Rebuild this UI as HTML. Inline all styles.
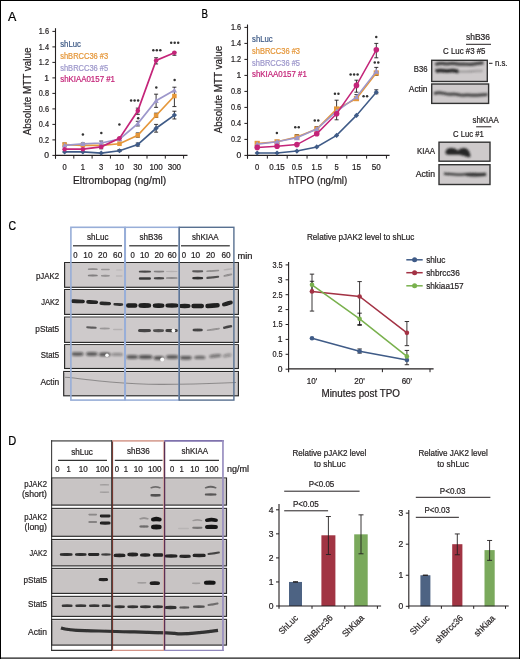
<!DOCTYPE html><html><head><meta charset="utf-8"><style>html,body{margin:0;padding:0;background:#fff;}svg{display:block;will-change:transform;}</style></head><body>
<svg width="520" height="659" viewBox="0 0 520 659" font-family='"Liberation Sans", sans-serif'>
<defs><filter id="b1" x="-20%" y="-50%" width="140%" height="200%"><feGaussianBlur stdDeviation="0.8"/></filter><filter id="b2" x="-20%" y="-50%" width="140%" height="200%"><feGaussianBlur stdDeviation="1.0"/></filter><filter id="b0" x="-20%" y="-50%" width="140%" height="200%"><feGaussianBlur stdDeviation="0.5"/></filter></defs>
<rect x="0.00" y="0.00" width="520.00" height="659.00" fill="#fff" stroke="none" stroke-width="1" />
<text x="8.00" y="21.20" font-size="12.60" fill="#000" stroke="#000" stroke-width="0.22" text-anchor="start" textLength="8.3" lengthAdjust="spacingAndGlyphs" >A</text>
<text x="60.20" y="47.20" font-size="8.56" fill="#3f5b87" stroke="#3f5b87" stroke-width="0.22" text-anchor="start" textLength="20.7" lengthAdjust="spacingAndGlyphs" >shLuc</text>
<text x="60.20" y="58.80" font-size="8.56" fill="#e5973a" stroke="#e5973a" stroke-width="0.22" text-anchor="start" textLength="48" lengthAdjust="spacingAndGlyphs" >shBRCC36 #3</text>
<text x="60.20" y="70.50" font-size="8.56" fill="#9d97cb" stroke="#9d97cb" stroke-width="0.22" text-anchor="start" textLength="48" lengthAdjust="spacingAndGlyphs" >shBRCC36 #5</text>
<text x="60.20" y="82.00" font-size="8.56" fill="#c42479" stroke="#c42479" stroke-width="0.22" text-anchor="start" textLength="54.8" lengthAdjust="spacingAndGlyphs" >shKIAA0157 #1</text>
<text transform="translate(31.2,91.4) rotate(-90)" font-size="10.2" stroke="#231f20" stroke-width="0.2" fill="#231f20" text-anchor="middle" textLength="87.8" lengthAdjust="spacingAndGlyphs">Absolute MTT value</text>
<line x1="55.50" y1="28.20" x2="55.50" y2="158.60" stroke="#231f20" stroke-width="1.1" />
<line x1="55.50" y1="155.40" x2="187.50" y2="155.40" stroke="#231f20" stroke-width="1.1" />
<line x1="52.40" y1="155.40" x2="55.50" y2="155.40" stroke="#231f20" stroke-width="1" />
<text x="49.00" y="158.20" font-size="8.56" fill="#231f20" stroke="#231f20" stroke-width="0.22" text-anchor="end" >0</text>
<line x1="52.40" y1="139.90" x2="55.50" y2="139.90" stroke="#231f20" stroke-width="1" />
<text x="49.00" y="142.70" font-size="8.56" fill="#231f20" stroke="#231f20" stroke-width="0.22" text-anchor="end" textLength="10.2" lengthAdjust="spacingAndGlyphs" >0.2</text>
<line x1="52.40" y1="124.40" x2="55.50" y2="124.40" stroke="#231f20" stroke-width="1" />
<text x="49.00" y="127.20" font-size="8.56" fill="#231f20" stroke="#231f20" stroke-width="0.22" text-anchor="end" textLength="10.2" lengthAdjust="spacingAndGlyphs" >0.4</text>
<line x1="52.40" y1="108.90" x2="55.50" y2="108.90" stroke="#231f20" stroke-width="1" />
<text x="49.00" y="111.70" font-size="8.56" fill="#231f20" stroke="#231f20" stroke-width="0.22" text-anchor="end" textLength="10.2" lengthAdjust="spacingAndGlyphs" >0.6</text>
<line x1="52.40" y1="93.40" x2="55.50" y2="93.40" stroke="#231f20" stroke-width="1" />
<text x="49.00" y="96.20" font-size="8.56" fill="#231f20" stroke="#231f20" stroke-width="0.22" text-anchor="end" textLength="10.2" lengthAdjust="spacingAndGlyphs" >0.8</text>
<line x1="52.40" y1="77.90" x2="55.50" y2="77.90" stroke="#231f20" stroke-width="1" />
<text x="49.00" y="80.70" font-size="8.56" fill="#231f20" stroke="#231f20" stroke-width="0.22" text-anchor="end" >1</text>
<line x1="52.40" y1="62.40" x2="55.50" y2="62.40" stroke="#231f20" stroke-width="1" />
<text x="49.00" y="65.20" font-size="8.56" fill="#231f20" stroke="#231f20" stroke-width="0.22" text-anchor="end" textLength="10.2" lengthAdjust="spacingAndGlyphs" >1.2</text>
<line x1="52.40" y1="46.90" x2="55.50" y2="46.90" stroke="#231f20" stroke-width="1" />
<text x="49.00" y="49.70" font-size="8.56" fill="#231f20" stroke="#231f20" stroke-width="0.22" text-anchor="end" textLength="10.2" lengthAdjust="spacingAndGlyphs" >1.4</text>
<line x1="52.40" y1="31.40" x2="55.50" y2="31.40" stroke="#231f20" stroke-width="1" />
<text x="49.00" y="34.20" font-size="8.56" fill="#231f20" stroke="#231f20" stroke-width="0.22" text-anchor="end" textLength="10.2" lengthAdjust="spacingAndGlyphs" >1.6</text>
<line x1="55.50" y1="155.40" x2="55.50" y2="158.60" stroke="#231f20" stroke-width="1" />
<line x1="73.80" y1="155.40" x2="73.80" y2="158.60" stroke="#231f20" stroke-width="1" />
<line x1="92.10" y1="155.40" x2="92.10" y2="158.60" stroke="#231f20" stroke-width="1" />
<line x1="110.40" y1="155.40" x2="110.40" y2="158.60" stroke="#231f20" stroke-width="1" />
<line x1="128.70" y1="155.40" x2="128.70" y2="158.60" stroke="#231f20" stroke-width="1" />
<line x1="147.00" y1="155.40" x2="147.00" y2="158.60" stroke="#231f20" stroke-width="1" />
<line x1="165.30" y1="155.40" x2="165.30" y2="158.60" stroke="#231f20" stroke-width="1" />
<line x1="183.60" y1="155.40" x2="183.60" y2="158.60" stroke="#231f20" stroke-width="1" />
<text x="64.60" y="169.60" font-size="8.35" fill="#231f20" stroke="#231f20" stroke-width="0.22" text-anchor="middle" textLength="4.2" lengthAdjust="spacingAndGlyphs" >0</text>
<text x="82.90" y="169.60" font-size="8.35" fill="#231f20" stroke="#231f20" stroke-width="0.22" text-anchor="middle" textLength="4.2" lengthAdjust="spacingAndGlyphs" >1</text>
<text x="101.20" y="169.60" font-size="8.35" fill="#231f20" stroke="#231f20" stroke-width="0.22" text-anchor="middle" textLength="4.2" lengthAdjust="spacingAndGlyphs" >3</text>
<text x="119.50" y="169.60" font-size="8.35" fill="#231f20" stroke="#231f20" stroke-width="0.22" text-anchor="middle" textLength="9.0" lengthAdjust="spacingAndGlyphs" >10</text>
<text x="137.80" y="169.60" font-size="8.35" fill="#231f20" stroke="#231f20" stroke-width="0.22" text-anchor="middle" textLength="9.0" lengthAdjust="spacingAndGlyphs" >30</text>
<text x="156.10" y="169.60" font-size="8.35" fill="#231f20" stroke="#231f20" stroke-width="0.22" text-anchor="middle" textLength="13.4" lengthAdjust="spacingAndGlyphs" >100</text>
<text x="174.40" y="169.60" font-size="8.35" fill="#231f20" stroke="#231f20" stroke-width="0.22" text-anchor="middle" textLength="13.4" lengthAdjust="spacingAndGlyphs" >300</text>
<text x="73.00" y="184.20" font-size="10.27" fill="#231f20" stroke="#231f20" stroke-width="0.22" text-anchor="start" textLength="93.2" lengthAdjust="spacingAndGlyphs" >Eltrombopag (ng/ml)</text>
<line x1="137.80" y1="108.12" x2="137.80" y2="114.33" stroke="#231f20" stroke-width="0.9" />
<line x1="135.80" y1="108.12" x2="139.80" y2="108.12" stroke="#231f20" stroke-width="0.9" />
<line x1="135.80" y1="114.33" x2="139.80" y2="114.33" stroke="#231f20" stroke-width="0.9" />
<line x1="156.10" y1="57.75" x2="156.10" y2="63.95" stroke="#231f20" stroke-width="0.9" />
<line x1="154.10" y1="57.75" x2="158.10" y2="57.75" stroke="#231f20" stroke-width="0.9" />
<line x1="154.10" y1="63.95" x2="158.10" y2="63.95" stroke="#231f20" stroke-width="0.9" />
<line x1="174.40" y1="52.33" x2="174.40" y2="55.27" stroke="#231f20" stroke-width="0.9" />
<line x1="172.40" y1="52.33" x2="176.40" y2="52.33" stroke="#231f20" stroke-width="0.9" />
<line x1="172.40" y1="55.27" x2="176.40" y2="55.27" stroke="#231f20" stroke-width="0.9" />
<line x1="156.10" y1="94.18" x2="156.10" y2="107.35" stroke="#231f20" stroke-width="0.9" />
<line x1="154.10" y1="94.18" x2="158.10" y2="94.18" stroke="#231f20" stroke-width="0.9" />
<line x1="154.10" y1="107.35" x2="158.10" y2="107.35" stroke="#231f20" stroke-width="0.9" />
<line x1="174.40" y1="87.20" x2="174.40" y2="106.58" stroke="#231f20" stroke-width="0.9" />
<line x1="172.40" y1="87.20" x2="176.40" y2="87.20" stroke="#231f20" stroke-width="0.9" />
<line x1="172.40" y1="106.58" x2="176.40" y2="106.58" stroke="#231f20" stroke-width="0.9" />
<line x1="156.10" y1="124.40" x2="156.10" y2="132.15" stroke="#231f20" stroke-width="0.9" />
<line x1="154.10" y1="124.40" x2="158.10" y2="124.40" stroke="#231f20" stroke-width="0.9" />
<line x1="154.10" y1="132.15" x2="158.10" y2="132.15" stroke="#231f20" stroke-width="0.9" />
<line x1="174.40" y1="111.23" x2="174.40" y2="118.98" stroke="#231f20" stroke-width="0.9" />
<line x1="172.40" y1="111.23" x2="176.40" y2="111.23" stroke="#231f20" stroke-width="0.9" />
<line x1="172.40" y1="118.98" x2="176.40" y2="118.98" stroke="#231f20" stroke-width="0.9" />
<line x1="137.80" y1="143.00" x2="137.80" y2="146.10" stroke="#231f20" stroke-width="0.9" />
<line x1="135.80" y1="143.00" x2="139.80" y2="143.00" stroke="#231f20" stroke-width="0.9" />
<line x1="135.80" y1="146.10" x2="139.80" y2="146.10" stroke="#231f20" stroke-width="0.9" />
<line x1="119.50" y1="149.59" x2="119.50" y2="151.53" stroke="#231f20" stroke-width="0.9" />
<line x1="117.50" y1="149.59" x2="121.50" y2="149.59" stroke="#231f20" stroke-width="0.9" />
<line x1="117.50" y1="151.53" x2="121.50" y2="151.53" stroke="#231f20" stroke-width="0.9" />
<line x1="156.10" y1="113.16" x2="156.10" y2="117.43" stroke="#231f20" stroke-width="0.9" />
<line x1="154.10" y1="113.16" x2="158.10" y2="113.16" stroke="#231f20" stroke-width="0.9" />
<line x1="154.10" y1="117.43" x2="158.10" y2="117.43" stroke="#231f20" stroke-width="0.9" />
<line x1="137.80" y1="121.30" x2="137.80" y2="125.95" stroke="#231f20" stroke-width="0.9" />
<line x1="135.80" y1="121.30" x2="139.80" y2="121.30" stroke="#231f20" stroke-width="0.9" />
<line x1="135.80" y1="125.95" x2="139.80" y2="125.95" stroke="#231f20" stroke-width="0.9" />
<line x1="137.80" y1="132.93" x2="137.80" y2="137.19" stroke="#231f20" stroke-width="0.9" />
<line x1="135.80" y1="132.93" x2="139.80" y2="132.93" stroke="#231f20" stroke-width="0.9" />
<line x1="135.80" y1="137.19" x2="139.80" y2="137.19" stroke="#231f20" stroke-width="0.9" />
<line x1="64.60" y1="143.00" x2="64.60" y2="146.10" stroke="#231f20" stroke-width="0.9" />
<line x1="62.60" y1="143.00" x2="66.60" y2="143.00" stroke="#231f20" stroke-width="0.9" />
<line x1="62.60" y1="146.10" x2="66.60" y2="146.10" stroke="#231f20" stroke-width="0.9" />
<line x1="82.90" y1="143.00" x2="82.90" y2="146.10" stroke="#231f20" stroke-width="0.9" />
<line x1="80.90" y1="143.00" x2="84.90" y2="143.00" stroke="#231f20" stroke-width="0.9" />
<line x1="80.90" y1="146.10" x2="84.90" y2="146.10" stroke="#231f20" stroke-width="0.9" />
<line x1="101.20" y1="141.06" x2="101.20" y2="148.81" stroke="#231f20" stroke-width="0.9" />
<line x1="99.20" y1="141.06" x2="103.20" y2="141.06" stroke="#231f20" stroke-width="0.9" />
<line x1="99.20" y1="148.81" x2="103.20" y2="148.81" stroke="#231f20" stroke-width="0.9" />
<line x1="119.50" y1="137.58" x2="119.50" y2="140.68" stroke="#231f20" stroke-width="0.9" />
<line x1="117.50" y1="137.58" x2="121.50" y2="137.58" stroke="#231f20" stroke-width="0.9" />
<line x1="117.50" y1="140.68" x2="121.50" y2="140.68" stroke="#231f20" stroke-width="0.9" />
<polyline points="64.60,151.91 82.90,151.91 101.20,153.08 119.50,150.75 137.80,144.55 156.10,128.28 174.40,115.10" fill="none" stroke="#3f5b87" stroke-width="1.7"/>
<path d="M64.60 149.31 L67.20 151.91 L64.60 154.51 L62.00 151.91Z" fill="#3f5b87"/>
<path d="M82.90 149.31 L85.50 151.91 L82.90 154.51 L80.30 151.91Z" fill="#3f5b87"/>
<path d="M101.20 150.48 L103.80 153.08 L101.20 155.68 L98.60 153.08Z" fill="#3f5b87"/>
<path d="M119.50 148.15 L122.10 150.75 L119.50 153.35 L116.90 150.75Z" fill="#3f5b87"/>
<path d="M137.80 141.95 L140.40 144.55 L137.80 147.15 L135.20 144.55Z" fill="#3f5b87"/>
<path d="M156.10 125.68 L158.70 128.28 L156.10 130.88 L153.50 128.28Z" fill="#3f5b87"/>
<path d="M174.40 112.50 L177.00 115.10 L174.40 117.70 L171.80 115.10Z" fill="#3f5b87"/>
<polyline points="64.60,144.55 82.90,145.33 101.20,145.33 119.50,143.78 137.80,135.25 156.10,115.49 174.40,96.03" fill="none" stroke="#e5973a" stroke-width="1.7"/>
<rect x="62.35" y="142.30" width="4.50" height="4.50" fill="#e5973a"/>
<rect x="80.65" y="143.08" width="4.50" height="4.50" fill="#e5973a"/>
<rect x="98.95" y="143.08" width="4.50" height="4.50" fill="#e5973a"/>
<rect x="117.25" y="141.53" width="4.50" height="4.50" fill="#e5973a"/>
<rect x="135.55" y="133.00" width="4.50" height="4.50" fill="#e5973a"/>
<rect x="153.85" y="113.24" width="4.50" height="4.50" fill="#e5973a"/>
<rect x="172.15" y="93.78" width="4.50" height="4.50" fill="#e5973a"/>
<polyline points="64.60,145.33 82.90,143.78 101.20,143.00 119.50,139.12 137.80,123.62 156.10,100.76 174.40,90.30" fill="none" stroke="#9d97cb" stroke-width="1.7"/>
<path d="M64.60 142.69 L67.24 147.49 L61.96 147.49Z" fill="#9d97cb"/>
<path d="M82.90 141.14 L85.54 145.94 L80.26 145.94Z" fill="#9d97cb"/>
<path d="M101.20 140.36 L103.84 145.16 L98.56 145.16Z" fill="#9d97cb"/>
<path d="M119.50 136.49 L122.14 141.28 L116.86 141.28Z" fill="#9d97cb"/>
<path d="M137.80 120.98 L140.44 125.78 L135.16 125.78Z" fill="#9d97cb"/>
<path d="M156.10 98.12 L158.74 102.92 L153.46 102.92Z" fill="#9d97cb"/>
<path d="M174.40 87.66 L177.04 92.46 L171.76 92.46Z" fill="#9d97cb"/>
<polyline points="64.60,149.20 82.90,149.20 101.20,146.88 119.50,138.35 137.80,110.84 156.10,60.46 174.40,52.71" fill="none" stroke="#c42479" stroke-width="1.7"/>
<circle cx="64.60" cy="149.20" r="2.30" fill="#c42479"/>
<circle cx="82.90" cy="149.20" r="2.30" fill="#c42479"/>
<circle cx="101.20" cy="146.88" r="2.30" fill="#c42479"/>
<circle cx="119.50" cy="138.35" r="2.30" fill="#c42479"/>
<circle cx="137.80" cy="110.84" r="2.30" fill="#c42479"/>
<circle cx="156.10" cy="60.46" r="2.30" fill="#c42479"/>
<circle cx="174.40" cy="52.71" r="2.30" fill="#c42479"/>
<circle cx="82.90" cy="134.60" r="1.25" fill="#333"/>
<circle cx="101.30" cy="133.10" r="1.25" fill="#333"/>
<circle cx="119.40" cy="124.40" r="1.25" fill="#333"/>
<circle cx="131.10" cy="100.40" r="1.25" fill="#333"/>
<circle cx="134.60" cy="100.40" r="1.25" fill="#333"/>
<circle cx="138.10" cy="100.40" r="1.25" fill="#333"/>
<circle cx="138.20" cy="118.30" r="1.25" fill="#333"/>
<circle cx="153.30" cy="50.20" r="1.25" fill="#333"/>
<circle cx="156.80" cy="50.20" r="1.25" fill="#333"/>
<circle cx="160.30" cy="50.20" r="1.25" fill="#333"/>
<circle cx="156.30" cy="87.60" r="1.25" fill="#333"/>
<circle cx="171.20" cy="42.70" r="1.25" fill="#333"/>
<circle cx="174.70" cy="42.70" r="1.25" fill="#333"/>
<circle cx="178.20" cy="42.70" r="1.25" fill="#333"/>
<circle cx="174.60" cy="80.10" r="1.25" fill="#333"/>
<text x="201.40" y="18.00" font-size="12.00" fill="#000" stroke="#000" stroke-width="0.22" text-anchor="start" textLength="6.5" lengthAdjust="spacingAndGlyphs" >B</text>
<text x="252.00" y="42.40" font-size="8.56" fill="#3f5b87" stroke="#3f5b87" stroke-width="0.22" text-anchor="start" textLength="20.7" lengthAdjust="spacingAndGlyphs" >shLuc</text>
<text x="252.00" y="54.20" font-size="8.56" fill="#e5973a" stroke="#e5973a" stroke-width="0.22" text-anchor="start" textLength="48" lengthAdjust="spacingAndGlyphs" >shBRCC36 #3</text>
<text x="252.00" y="65.60" font-size="8.56" fill="#9d97cb" stroke="#9d97cb" stroke-width="0.22" text-anchor="start" textLength="48" lengthAdjust="spacingAndGlyphs" >shBRCC36 #5</text>
<text x="252.00" y="77.20" font-size="8.56" fill="#c42479" stroke="#c42479" stroke-width="0.22" text-anchor="start" textLength="54.8" lengthAdjust="spacingAndGlyphs" >shKIAA0157 #1</text>
<text transform="translate(221.9,89.6) rotate(-90)" font-size="10.2" stroke="#231f20" stroke-width="0.2" fill="#231f20" text-anchor="middle" textLength="87.5" lengthAdjust="spacingAndGlyphs">Absolute MTT value</text>
<line x1="247.50" y1="24.50" x2="247.50" y2="158.60" stroke="#231f20" stroke-width="1.1" />
<line x1="247.50" y1="155.40" x2="389.60" y2="155.40" stroke="#231f20" stroke-width="1.1" />
<line x1="244.40" y1="155.40" x2="247.50" y2="155.40" stroke="#231f20" stroke-width="1" />
<text x="241.20" y="158.20" font-size="8.56" fill="#231f20" stroke="#231f20" stroke-width="0.22" text-anchor="end" >0</text>
<line x1="244.40" y1="139.40" x2="247.50" y2="139.40" stroke="#231f20" stroke-width="1" />
<text x="241.20" y="142.20" font-size="8.56" fill="#231f20" stroke="#231f20" stroke-width="0.22" text-anchor="end" textLength="10.2" lengthAdjust="spacingAndGlyphs" >0.2</text>
<line x1="244.40" y1="123.40" x2="247.50" y2="123.40" stroke="#231f20" stroke-width="1" />
<text x="241.20" y="126.20" font-size="8.56" fill="#231f20" stroke="#231f20" stroke-width="0.22" text-anchor="end" textLength="10.2" lengthAdjust="spacingAndGlyphs" >0.4</text>
<line x1="244.40" y1="107.40" x2="247.50" y2="107.40" stroke="#231f20" stroke-width="1" />
<text x="241.20" y="110.20" font-size="8.56" fill="#231f20" stroke="#231f20" stroke-width="0.22" text-anchor="end" textLength="10.2" lengthAdjust="spacingAndGlyphs" >0.6</text>
<line x1="244.40" y1="91.40" x2="247.50" y2="91.40" stroke="#231f20" stroke-width="1" />
<text x="241.20" y="94.20" font-size="8.56" fill="#231f20" stroke="#231f20" stroke-width="0.22" text-anchor="end" textLength="10.2" lengthAdjust="spacingAndGlyphs" >0.8</text>
<line x1="244.40" y1="75.40" x2="247.50" y2="75.40" stroke="#231f20" stroke-width="1" />
<text x="241.20" y="78.20" font-size="8.56" fill="#231f20" stroke="#231f20" stroke-width="0.22" text-anchor="end" >1</text>
<line x1="244.40" y1="59.40" x2="247.50" y2="59.40" stroke="#231f20" stroke-width="1" />
<text x="241.20" y="62.20" font-size="8.56" fill="#231f20" stroke="#231f20" stroke-width="0.22" text-anchor="end" textLength="10.2" lengthAdjust="spacingAndGlyphs" >1.2</text>
<line x1="244.40" y1="43.40" x2="247.50" y2="43.40" stroke="#231f20" stroke-width="1" />
<text x="241.20" y="46.20" font-size="8.56" fill="#231f20" stroke="#231f20" stroke-width="0.22" text-anchor="end" textLength="10.2" lengthAdjust="spacingAndGlyphs" >1.4</text>
<line x1="244.40" y1="27.40" x2="247.50" y2="27.40" stroke="#231f20" stroke-width="1" />
<text x="241.20" y="30.20" font-size="8.56" fill="#231f20" stroke="#231f20" stroke-width="0.22" text-anchor="end" textLength="10.2" lengthAdjust="spacingAndGlyphs" >1.6</text>
<line x1="247.50" y1="155.40" x2="247.50" y2="158.60" stroke="#231f20" stroke-width="1" />
<line x1="267.35" y1="155.40" x2="267.35" y2="158.60" stroke="#231f20" stroke-width="1" />
<line x1="287.20" y1="155.40" x2="287.20" y2="158.60" stroke="#231f20" stroke-width="1" />
<line x1="307.05" y1="155.40" x2="307.05" y2="158.60" stroke="#231f20" stroke-width="1" />
<line x1="326.90" y1="155.40" x2="326.90" y2="158.60" stroke="#231f20" stroke-width="1" />
<line x1="346.75" y1="155.40" x2="346.75" y2="158.60" stroke="#231f20" stroke-width="1" />
<line x1="366.60" y1="155.40" x2="366.60" y2="158.60" stroke="#231f20" stroke-width="1" />
<line x1="386.45" y1="155.40" x2="386.45" y2="158.60" stroke="#231f20" stroke-width="1" />
<text x="257.20" y="170.10" font-size="8.35" fill="#231f20" stroke="#231f20" stroke-width="0.22" text-anchor="middle" textLength="4.2" lengthAdjust="spacingAndGlyphs" >0</text>
<text x="277.05" y="170.10" font-size="8.35" fill="#231f20" stroke="#231f20" stroke-width="0.22" text-anchor="middle" textLength="15.5" lengthAdjust="spacingAndGlyphs" >0.15</text>
<text x="296.90" y="170.10" font-size="8.35" fill="#231f20" stroke="#231f20" stroke-width="0.22" text-anchor="middle" textLength="10.5" lengthAdjust="spacingAndGlyphs" >0.5</text>
<text x="316.75" y="170.10" font-size="8.35" fill="#231f20" stroke="#231f20" stroke-width="0.22" text-anchor="middle" textLength="10.5" lengthAdjust="spacingAndGlyphs" >1.5</text>
<text x="336.60" y="170.10" font-size="8.35" fill="#231f20" stroke="#231f20" stroke-width="0.22" text-anchor="middle" textLength="4.2" lengthAdjust="spacingAndGlyphs" >5</text>
<text x="356.45" y="170.10" font-size="8.35" fill="#231f20" stroke="#231f20" stroke-width="0.22" text-anchor="middle" textLength="9.0" lengthAdjust="spacingAndGlyphs" >15</text>
<text x="376.30" y="170.10" font-size="8.35" fill="#231f20" stroke="#231f20" stroke-width="0.22" text-anchor="middle" textLength="9.0" lengthAdjust="spacingAndGlyphs" >50</text>
<text x="288.70" y="184.20" font-size="10.27" fill="#231f20" stroke="#231f20" stroke-width="0.22" text-anchor="start" textLength="58.6" lengthAdjust="spacingAndGlyphs" >hTPO (ng/ml)</text>
<line x1="336.60" y1="100.20" x2="336.60" y2="119.80" stroke="#231f20" stroke-width="0.9" />
<line x1="334.60" y1="100.20" x2="338.60" y2="100.20" stroke="#231f20" stroke-width="0.9" />
<line x1="334.60" y1="119.80" x2="338.60" y2="119.80" stroke="#231f20" stroke-width="0.9" />
<line x1="356.45" y1="80.20" x2="356.45" y2="92.20" stroke="#231f20" stroke-width="0.9" />
<line x1="354.45" y1="80.20" x2="358.45" y2="80.20" stroke="#231f20" stroke-width="0.9" />
<line x1="354.45" y1="92.20" x2="358.45" y2="92.20" stroke="#231f20" stroke-width="0.9" />
<line x1="376.30" y1="43.40" x2="376.30" y2="57.80" stroke="#231f20" stroke-width="0.9" />
<line x1="374.30" y1="43.40" x2="378.30" y2="43.40" stroke="#231f20" stroke-width="0.9" />
<line x1="374.30" y1="57.80" x2="378.30" y2="57.80" stroke="#231f20" stroke-width="0.9" />
<line x1="376.30" y1="67.40" x2="376.30" y2="75.40" stroke="#231f20" stroke-width="0.9" />
<line x1="374.30" y1="67.40" x2="378.30" y2="67.40" stroke="#231f20" stroke-width="0.9" />
<line x1="374.30" y1="75.40" x2="378.30" y2="75.40" stroke="#231f20" stroke-width="0.9" />
<line x1="356.45" y1="94.60" x2="356.45" y2="100.20" stroke="#231f20" stroke-width="0.9" />
<line x1="354.45" y1="94.60" x2="358.45" y2="94.60" stroke="#231f20" stroke-width="0.9" />
<line x1="354.45" y1="100.20" x2="358.45" y2="100.20" stroke="#231f20" stroke-width="0.9" />
<line x1="376.30" y1="89.80" x2="376.30" y2="93.80" stroke="#231f20" stroke-width="0.9" />
<line x1="374.30" y1="89.80" x2="378.30" y2="89.80" stroke="#231f20" stroke-width="0.9" />
<line x1="374.30" y1="93.80" x2="378.30" y2="93.80" stroke="#231f20" stroke-width="0.9" />
<line x1="316.75" y1="126.60" x2="316.75" y2="133.00" stroke="#231f20" stroke-width="0.9" />
<line x1="314.75" y1="126.60" x2="318.75" y2="126.60" stroke="#231f20" stroke-width="0.9" />
<line x1="314.75" y1="133.00" x2="318.75" y2="133.00" stroke="#231f20" stroke-width="0.9" />
<line x1="296.90" y1="134.60" x2="296.90" y2="139.40" stroke="#231f20" stroke-width="0.9" />
<line x1="294.90" y1="134.60" x2="298.90" y2="134.60" stroke="#231f20" stroke-width="0.9" />
<line x1="294.90" y1="139.40" x2="298.90" y2="139.40" stroke="#231f20" stroke-width="0.9" />
<polyline points="257.20,153.00 277.05,153.00 296.90,151.08 316.75,146.92 336.60,135.40 356.45,115.40 376.30,92.20" fill="none" stroke="#3f5b87" stroke-width="1.5"/>
<path d="M257.20 150.40 L259.80 153.00 L257.20 155.60 L254.60 153.00Z" fill="#3f5b87"/>
<path d="M277.05 150.40 L279.65 153.00 L277.05 155.60 L274.45 153.00Z" fill="#3f5b87"/>
<path d="M296.90 148.48 L299.50 151.08 L296.90 153.68 L294.30 151.08Z" fill="#3f5b87"/>
<path d="M316.75 144.32 L319.35 146.92 L316.75 149.52 L314.15 146.92Z" fill="#3f5b87"/>
<path d="M336.60 132.80 L339.20 135.40 L336.60 138.00 L334.00 135.40Z" fill="#3f5b87"/>
<path d="M356.45 112.80 L359.05 115.40 L356.45 118.00 L353.85 115.40Z" fill="#3f5b87"/>
<path d="M376.30 89.60 L378.90 92.20 L376.30 94.80 L373.70 92.20Z" fill="#3f5b87"/>
<polyline points="257.20,143.40 277.05,141.80 296.90,137.00 316.75,129.00 336.60,109.00 356.45,98.60 376.30,73.00" fill="none" stroke="#e5973a" stroke-width="1.5"/>
<rect x="254.60" y="140.80" width="5.20" height="5.20" fill="#e5973a"/>
<rect x="274.45" y="139.20" width="5.20" height="5.20" fill="#e5973a"/>
<rect x="294.30" y="134.40" width="5.20" height="5.20" fill="#e5973a"/>
<rect x="314.15" y="126.40" width="5.20" height="5.20" fill="#e5973a"/>
<rect x="334.00" y="106.40" width="5.20" height="5.20" fill="#e5973a"/>
<rect x="353.85" y="96.00" width="5.20" height="5.20" fill="#e5973a"/>
<rect x="373.70" y="70.40" width="5.20" height="5.20" fill="#e5973a"/>
<polyline points="257.20,144.20 277.05,141.80 296.90,137.80 316.75,129.00 336.60,111.40 356.45,97.00 376.30,71.40" fill="none" stroke="#9d97cb" stroke-width="1.5"/>
<path d="M257.20 141.34 L260.06 146.54 L254.34 146.54Z" fill="#9d97cb"/>
<path d="M277.05 138.94 L279.91 144.14 L274.19 144.14Z" fill="#9d97cb"/>
<path d="M296.90 134.94 L299.76 140.14 L294.04 140.14Z" fill="#9d97cb"/>
<path d="M316.75 126.14 L319.61 131.34 L313.89 131.34Z" fill="#9d97cb"/>
<path d="M336.60 108.54 L339.46 113.74 L333.74 113.74Z" fill="#9d97cb"/>
<path d="M356.45 94.14 L359.31 99.34 L353.59 99.34Z" fill="#9d97cb"/>
<path d="M376.30 68.54 L379.16 73.74 L373.44 73.74Z" fill="#9d97cb"/>
<polyline points="257.20,147.40 277.05,146.20 296.90,144.60 316.75,133.80 336.60,113.80 356.45,85.40 376.30,49.80" fill="none" stroke="#c42479" stroke-width="1.5"/>
<circle cx="257.20" cy="147.40" r="2.80" fill="#c42479"/>
<circle cx="277.05" cy="146.20" r="2.80" fill="#c42479"/>
<circle cx="296.90" cy="144.60" r="2.80" fill="#c42479"/>
<circle cx="316.75" cy="133.80" r="2.80" fill="#c42479"/>
<circle cx="336.60" cy="113.80" r="2.80" fill="#c42479"/>
<circle cx="356.45" cy="85.40" r="2.80" fill="#c42479"/>
<circle cx="376.30" cy="49.80" r="2.80" fill="#c42479"/>
<circle cx="276.90" cy="132.90" r="1.25" fill="#333"/>
<circle cx="295.25" cy="127.30" r="1.25" fill="#333"/>
<circle cx="298.75" cy="127.30" r="1.25" fill="#333"/>
<circle cx="314.75" cy="120.50" r="1.25" fill="#333"/>
<circle cx="318.25" cy="120.50" r="1.25" fill="#333"/>
<circle cx="334.95" cy="93.75" r="1.25" fill="#333"/>
<circle cx="338.45" cy="93.75" r="1.25" fill="#333"/>
<circle cx="350.60" cy="74.40" r="1.25" fill="#333"/>
<circle cx="354.10" cy="74.40" r="1.25" fill="#333"/>
<circle cx="357.60" cy="74.40" r="1.25" fill="#333"/>
<circle cx="363.55" cy="96.25" r="1.25" fill="#333"/>
<circle cx="367.05" cy="96.25" r="1.25" fill="#333"/>
<circle cx="376.25" cy="36.90" r="1.25" fill="#333"/>
<circle cx="374.75" cy="62.50" r="1.25" fill="#333"/>
<circle cx="378.25" cy="62.50" r="1.25" fill="#333"/>
<text x="466.00" y="40.20" font-size="8.56" fill="#231f20" stroke="#231f20" stroke-width="0.22" text-anchor="start" textLength="24" lengthAdjust="spacingAndGlyphs" >shB36</text>
<line x1="466.00" y1="44.30" x2="491.00" y2="44.30" stroke="#231f20" stroke-width="1" />
<text x="443.00" y="54.00" font-size="8.56" fill="#231f20" stroke="#231f20" stroke-width="0.22" text-anchor="start" textLength="42.5" lengthAdjust="spacingAndGlyphs" >C Luc #3 #5</text>
<rect x="431.70" y="60.30" width="55.60" height="21.20" fill="#cecacb" stroke="#333" stroke-width="1.4" />
<rect x="431.70" y="84.00" width="56.90" height="19.40" fill="#cecacb" stroke="#333" stroke-width="1.4" />
<text x="413.80" y="72.30" font-size="8.56" fill="#231f20" stroke="#231f20" stroke-width="0.22" text-anchor="start" textLength="13.7" lengthAdjust="spacingAndGlyphs" >B36</text>
<text x="408.80" y="91.60" font-size="8.56" fill="#231f20" stroke="#231f20" stroke-width="0.22" text-anchor="start" textLength="18.7" lengthAdjust="spacingAndGlyphs" >Actin</text>
<line x1="489.00" y1="63.30" x2="492.50" y2="63.30" stroke="#231f20" stroke-width="1" />
<text x="495.00" y="66.00" font-size="8.56" fill="#231f20" stroke="#231f20" stroke-width="0.22" text-anchor="start" textLength="12.5" lengthAdjust="spacingAndGlyphs" >n.s.</text>
<g filter="url(#b2)">
<path d="M435.2 64.6 C438 63.6 441 63 444 63.6 C447 64.3 449 63.6 452 63.4 C456 63.2 458 64.4 461 64.2 C465 63.8 468 64.6 471 64.4 C475 64.1 479 63 483.5 62.8" stroke="#2b2b2b" stroke-width="3.2" fill="none" opacity="0.85"/>
<path d="M435.6 71.2 C438 70.2 441 70.4 444 70.8 C448 71.4 451 70.2 454 70.6 C456 70.8 457.5 71.6 458.5 71.8" stroke="#1e1e1e" stroke-width="3.6" fill="none" opacity="0.95"/>
<path d="M458.5 71.6 C466 72 474 71.4 482.5 70.8" stroke="#444" stroke-width="1.3" fill="none" opacity="0.55"/>
<path d="M434 93.6 C437 92.6 441 92.8 444 93.4 C447 94.2 449 94.6 452 94.2 C455 93.8 457 94.6 460 95 C464 95.4 468 94.8 472 95.2 C476 95.6 480 94.8 487.5 94.4" stroke="#2e2e2e" stroke-width="3.0" fill="none" opacity="0.85"/>
</g>
<text x="472.50" y="123.20" font-size="8.56" fill="#231f20" stroke="#231f20" stroke-width="0.22" text-anchor="start" textLength="26.3" lengthAdjust="spacingAndGlyphs" >shKIAA</text>
<line x1="476.20" y1="126.80" x2="491.30" y2="126.80" stroke="#231f20" stroke-width="1" />
<text x="453.00" y="136.50" font-size="8.56" fill="#231f20" stroke="#231f20" stroke-width="0.22" text-anchor="start" textLength="30.7" lengthAdjust="spacingAndGlyphs" >C Luc #1</text>
<rect x="439.00" y="142.20" width="51.00" height="19.00" fill="#cecacb" stroke="#333" stroke-width="1.4" />
<rect x="439.00" y="164.70" width="51.00" height="19.80" fill="#cecacb" stroke="#333" stroke-width="1.4" />
<text x="417.00" y="154.00" font-size="8.56" fill="#231f20" stroke="#231f20" stroke-width="0.22" text-anchor="start" textLength="18" lengthAdjust="spacingAndGlyphs" >KIAA</text>
<text x="415.80" y="177.30" font-size="8.56" fill="#231f20" stroke="#231f20" stroke-width="0.22" text-anchor="start" textLength="19.2" lengthAdjust="spacingAndGlyphs" >Actin</text>
<g filter="url(#b1)">
<path d="M445.5 152.5 C445.5 149 449 147.6 452.5 148 C455 148.3 457 149.5 458 150.8 C459.5 148.5 462.5 147.6 465.5 148.2 C468.5 149 470 152 470.5 156 C470 157.8 468 157.5 466 156.5 C463 155.3 460 154.8 457 154.8 C453 154.6 449 155.2 447 154.6 C445.8 154.2 445.5 153.5 445.5 152.5Z" fill="#1f1f1f" opacity="0.95"/>
<path d="M444 173.6 C450 173.9 456 174.6 462 174.6 C467 174.6 470 173.6 474 173.9 C478 174.2 482 174.2 486 173.8" stroke="#262626" stroke-width="2.2" fill="none" opacity="0.9"/>
<path d="M466 174.6 C472 176 478 175.6 486 174.6" stroke="#262626" stroke-width="2.6" fill="none" opacity="0.8"/>
</g>
<text x="8.40" y="229.50" font-size="12.00" fill="#000" stroke="#000" stroke-width="0.22" text-anchor="start" textLength="7.6" lengthAdjust="spacingAndGlyphs" >C</text>
<rect x="64.60" y="262.60" width="173.80" height="24.70" fill="#cecacb" stroke="#262626" stroke-width="1.15" />
<line x1="65.20" y1="263.60" x2="237.80" y2="263.60" stroke="#dad6d7" stroke-width="0.8" />
<rect x="64.60" y="289.60" width="173.80" height="24.80" fill="#cecacb" stroke="#262626" stroke-width="1.15" />
<line x1="65.20" y1="290.60" x2="237.80" y2="290.60" stroke="#dad6d7" stroke-width="0.8" />
<rect x="64.60" y="317.10" width="173.80" height="25.30" fill="#cecacb" stroke="#262626" stroke-width="1.15" />
<line x1="65.20" y1="318.10" x2="237.80" y2="318.10" stroke="#dad6d7" stroke-width="0.8" />
<rect x="64.60" y="344.70" width="173.80" height="23.80" fill="#cecacb" stroke="#262626" stroke-width="1.15" />
<line x1="65.20" y1="345.70" x2="237.80" y2="345.70" stroke="#dad6d7" stroke-width="0.8" />
<rect x="63.70" y="371.50" width="174.70" height="24.30" fill="#cecacb" stroke="#262626" stroke-width="1.15" />
<line x1="64.30" y1="372.50" x2="237.80" y2="372.50" stroke="#dad6d7" stroke-width="0.8" />
<g filter="url(#b0)">
<path d="M88.55 268.45 Q92.75 268.15 96.95 268.45 A0.75 0.75 0 0 1 96.95 269.95 Q92.75 270.25 88.55 269.95 A0.75 0.75 0 0 1 88.55 268.45Z" fill="#141414" opacity="0.35"/>
<path d="M88.65 274.65 Q92.75 274.35 96.85 274.65 A0.85 0.85 0 0 1 96.85 276.35 Q92.75 276.65 88.65 276.35 A0.85 0.85 0 0 1 88.65 274.65Z" fill="#141414" opacity="0.42"/>
<path d="M101.70 268.80 Q105.40 268.50 109.10 268.80 A0.70 0.70 0 0 1 109.10 270.20 Q105.40 270.50 101.70 270.20 A0.70 0.70 0 0 1 101.70 268.80Z" fill="#141414" opacity="0.25"/>
<path d="M101.80 275.00 Q105.40 274.70 109.00 275.00 A0.80 0.80 0 0 1 109.00 276.60 Q105.40 276.90 101.80 276.60 A0.80 0.80 0 0 1 101.80 275.00Z" fill="#141414" opacity="0.32"/>
<path d="M116.40 269.40 Q119.20 269.10 122.00 269.40 A0.60 0.60 0 0 1 122.00 270.60 Q119.20 270.90 116.40 270.60 A0.60 0.60 0 0 1 116.40 269.40Z" fill="#141414" opacity="0.08"/>
<path d="M116.45 275.35 Q119.20 275.05 121.95 275.35 A0.65 0.65 0 0 1 121.95 276.65 Q119.20 276.95 116.45 276.65 A0.65 0.65 0 0 1 116.45 275.35Z" fill="#141414" opacity="0.10"/>
<path d="M139.75 270.65 Q144.90 270.35 150.05 270.65 A0.95 0.95 0 0 1 150.05 272.55 Q144.90 272.85 139.75 272.55 A0.95 0.95 0 0 1 139.75 270.65Z" fill="#141414" opacity="0.70"/>
<path d="M140.00 277.30 Q144.90 277.00 149.80 277.30 A1.20 1.20 0 0 1 149.80 279.70 Q144.90 280.00 140.00 279.70 A1.20 1.20 0 0 1 140.00 277.30Z" fill="#141414" opacity="0.78"/>
<path d="M154.55 270.85 Q159.00 270.55 163.45 270.85 A0.75 0.75 0 0 1 163.45 272.35 Q159.00 272.65 154.55 272.35 A0.75 0.75 0 0 1 154.55 270.85Z" fill="#141414" opacity="0.42"/>
<path d="M154.85 277.25 Q159.00 276.95 163.15 277.25 A1.05 1.05 0 0 1 163.15 279.35 Q159.00 279.65 154.85 279.35 A1.05 1.05 0 0 1 154.85 277.25Z" fill="#141414" opacity="0.70"/>
<path d="M166.60 270.90 Q171.75 270.60 176.90 270.90 A0.60 0.60 0 0 1 176.90 272.10 Q171.75 272.40 166.60 272.10 A0.60 0.60 0 0 1 166.60 270.90Z" fill="#141414" opacity="0.12"/>
<path d="M166.85 277.15 Q171.75 276.85 176.65 277.15 A0.85 0.85 0 0 1 176.65 278.85 Q171.75 279.15 166.85 278.85 A0.85 0.85 0 0 1 166.85 277.15Z" fill="#141414" opacity="0.32"/>
<path d="M193.15 270.35 Q197.70 270.05 202.25 270.35 A0.95 0.95 0 0 1 202.25 272.25 Q197.70 272.55 193.15 272.25 A0.95 0.95 0 0 1 193.15 270.35Z" fill="#141414" opacity="0.62"/>
<path d="M193.40 276.90 Q197.70 276.60 202.00 276.90 A1.20 1.20 0 0 1 202.00 279.30 Q197.70 279.60 193.40 279.30 A1.20 1.20 0 0 1 193.40 276.90Z" fill="#141414" opacity="0.82"/>
<path d="M207.05 270.45 Q212.75 269.85 218.45 269.85 A0.75 0.75 0 0 1 218.45 271.35 Q212.75 271.95 207.05 271.95 A0.75 0.75 0 0 1 207.05 270.45Z" fill="#141414" opacity="0.35"/>
<path d="M207.35 276.85 Q212.75 275.95 218.15 275.65 A1.05 1.05 0 0 1 218.15 277.75 Q212.75 278.65 207.35 278.95 A1.05 1.05 0 0 1 207.35 276.85Z" fill="#141414" opacity="0.66"/>
<path d="M224.10 269.20 Q227.85 268.40 231.60 268.20 A0.60 0.60 0 0 1 231.60 269.40 Q227.85 270.20 224.10 270.40 A0.60 0.60 0 0 1 224.10 269.20Z" fill="#141414" opacity="0.12"/>
<path d="M224.35 275.10 Q227.85 274.05 231.35 273.60 A0.85 0.85 0 0 1 231.35 275.30 Q227.85 276.35 224.35 276.80 A0.85 0.85 0 0 1 224.35 275.10Z" fill="#141414" opacity="0.32"/>
<path d="M72.50 299.30 Q77.80 299.20 83.10 299.70 A1.80 1.80 0 0 1 83.10 303.30 Q77.80 303.40 72.50 302.90 A1.80 1.80 0 0 1 72.50 299.30Z" fill="#141414" opacity="0.92"/>
<path d="M88.00 300.10 Q92.15 300.00 96.30 300.50 A1.80 1.80 0 0 1 96.30 304.10 Q92.15 304.20 88.00 303.70 A1.80 1.80 0 0 1 88.00 300.10Z" fill="#141414" opacity="0.92"/>
<path d="M101.10 301.50 Q105.25 301.40 109.40 301.90 A1.70 1.70 0 0 1 109.40 305.30 Q105.25 305.40 101.10 304.90 A1.70 1.70 0 0 1 101.10 301.50Z" fill="#141414" opacity="0.90"/>
<path d="M114.70 302.95 Q118.30 302.80 121.90 303.25 A1.30 1.30 0 0 1 121.90 305.85 Q118.30 306.00 114.70 305.55 A1.30 1.30 0 0 1 114.70 302.95Z" fill="#141414" opacity="0.85"/>
<path d="M128.20 303.30 Q131.75 303.00 135.30 303.30 A2.20 2.20 0 0 1 135.30 307.70 Q131.75 308.00 128.20 307.70 A2.20 2.20 0 0 1 128.20 303.30Z" fill="#141414" opacity="0.95"/>
<path d="M140.60 303.20 Q144.75 302.90 148.90 303.20 A2.30 2.30 0 0 1 148.90 307.80 Q144.75 308.10 140.60 307.80 A2.30 2.30 0 0 1 140.60 303.20Z" fill="#141414" opacity="0.95"/>
<path d="M154.90 303.40 Q158.60 303.10 162.30 303.40 A2.20 2.20 0 0 1 162.30 307.80 Q158.60 308.10 154.90 307.80 A2.20 2.20 0 0 1 154.90 303.40Z" fill="#141414" opacity="0.95"/>
<path d="M167.50 303.40 Q171.95 303.10 176.40 303.40 A2.10 2.10 0 0 1 176.40 307.60 Q171.95 307.90 167.50 307.60 A2.10 2.10 0 0 1 167.50 303.40Z" fill="#141414" opacity="0.95"/>
<path d="M180.90 303.90 Q184.70 303.60 188.50 303.90 A2.10 2.10 0 0 1 188.50 308.10 Q184.70 308.40 180.90 308.10 A2.10 2.10 0 0 1 180.90 303.90Z" fill="#141414" opacity="0.95"/>
<path d="M193.50 303.80 Q197.65 303.50 201.80 303.80 A2.20 2.20 0 0 1 201.80 308.20 Q197.65 308.50 193.50 308.20 A2.20 2.20 0 0 1 193.50 303.80Z" fill="#141414" opacity="0.95"/>
<path d="M207.50 303.80 Q212.55 303.10 217.60 303.00 A2.20 2.20 0 0 1 217.60 307.40 Q212.55 308.10 207.50 308.20 A2.20 2.20 0 0 1 207.50 303.80Z" fill="#141414" opacity="0.95"/>
<path d="M223.90 302.60 Q227.40 301.30 230.90 300.60 A1.90 1.90 0 0 1 230.90 304.40 Q227.40 305.70 223.90 306.40 A1.90 1.90 0 0 1 223.90 302.60Z" fill="#141414" opacity="0.92"/>
<path d="M87.20 326.25 Q91.45 326.20 95.70 326.75 A1.00 1.00 0 0 1 95.70 328.75 Q91.45 328.80 87.20 328.25 A1.00 1.00 0 0 1 87.20 326.25Z" fill="#141414" opacity="0.60"/>
<path d="M100.45 327.75 Q104.75 327.45 109.05 327.75 A0.75 0.75 0 0 1 109.05 329.25 Q104.75 329.55 100.45 329.25 A0.75 0.75 0 0 1 100.45 327.75Z" fill="#141414" opacity="0.25"/>
<path d="M113.65 328.85 Q117.80 328.55 121.95 328.85 A0.65 0.65 0 0 1 121.95 330.15 Q117.80 330.45 113.65 330.15 A0.65 0.65 0 0 1 113.65 328.85Z" fill="#141414" opacity="0.12"/>
<path d="M139.50 329.10 Q144.50 328.80 149.50 329.10 A1.50 1.50 0 0 1 149.50 332.10 Q144.50 332.40 139.50 332.10 A1.50 1.50 0 0 1 139.50 329.10Z" fill="#141414" opacity="0.72"/>
<path d="M154.40 329.20 Q158.50 328.90 162.60 329.20 A1.40 1.40 0 0 1 162.60 332.00 Q158.50 332.30 154.40 332.00 A1.40 1.40 0 0 1 154.40 329.20Z" fill="#141414" opacity="0.66"/>
<path d="M166.90 329.10 Q171.60 328.80 176.30 329.10 A1.50 1.50 0 0 1 176.30 332.10 Q171.60 332.40 166.90 332.10 A1.50 1.50 0 0 1 166.90 329.10Z" fill="#141414" opacity="0.75"/>
<path d="M193.85 328.75 Q197.70 328.45 201.55 328.75 A1.25 1.25 0 0 1 201.55 331.25 Q197.70 331.55 193.85 331.25 A1.25 1.25 0 0 1 193.85 328.75Z" fill="#141414" opacity="0.72"/>
<path d="M207.50 329.40 Q213.25 328.30 219.00 327.80 A0.80 0.80 0 0 1 219.00 329.40 Q213.25 330.50 207.50 331.00 A0.80 0.80 0 0 1 207.50 329.40Z" fill="#141414" opacity="0.30"/>
<path d="M224.25 326.45 Q227.60 325.45 230.95 325.05 A1.25 1.25 0 0 1 230.95 327.55 Q227.60 328.55 224.25 328.95 A1.25 1.25 0 0 1 224.25 326.45Z" fill="#141414" opacity="0.72"/>
</g><g filter="url(#b1)">
<path d="M73.15 352.35 Q77.45 352.05 81.75 352.35 A1.75 1.75 0 0 1 81.75 355.85 Q77.45 356.15 73.15 355.85 A1.75 1.75 0 0 1 73.15 352.35Z" fill="#141414" opacity="0.62"/>
<path d="M87.75 352.25 Q91.85 351.95 95.95 352.25 A1.75 1.75 0 0 1 95.95 355.75 Q91.85 356.05 87.75 355.75 A1.75 1.75 0 0 1 87.75 352.25Z" fill="#141414" opacity="0.62"/>
<path d="M100.75 352.65 Q104.75 352.35 108.75 352.65 A1.75 1.75 0 0 1 108.75 356.15 Q104.75 356.45 100.75 356.15 A1.75 1.75 0 0 1 100.75 352.65Z" fill="#141414" opacity="0.66"/>
<path d="M113.05 353.15 Q117.20 352.85 121.35 353.15 A1.25 1.25 0 0 1 121.35 355.65 Q117.20 355.95 113.05 355.65 A1.25 1.25 0 0 1 113.05 353.15Z" fill="#141414" opacity="0.40"/>
<path d="M128.05 355.25 Q132.15 354.95 136.25 355.25 A1.75 1.75 0 0 1 136.25 358.75 Q132.15 359.05 128.05 358.75 A1.75 1.75 0 0 1 128.05 355.25Z" fill="#141414" opacity="0.62"/>
<path d="M140.45 355.25 Q145.55 354.95 150.65 355.25 A1.75 1.75 0 0 1 150.65 358.75 Q145.55 359.05 140.45 358.75 A1.75 1.75 0 0 1 140.45 355.25Z" fill="#141414" opacity="0.66"/>
<path d="M155.45 356.25 Q158.85 355.95 162.25 356.25 A1.75 1.75 0 0 1 162.25 359.75 Q158.85 360.05 155.45 359.75 A1.75 1.75 0 0 1 155.45 356.25Z" fill="#141414" opacity="0.66"/>
<path d="M167.75 355.25 Q172.25 354.95 176.75 355.25 A1.75 1.75 0 0 1 176.75 358.75 Q172.25 359.05 167.75 358.75 A1.75 1.75 0 0 1 167.75 355.25Z" fill="#141414" opacity="0.62"/>
<path d="M181.75 356.05 Q185.85 355.75 189.95 356.05 A1.75 1.75 0 0 1 189.95 359.55 Q185.85 359.85 181.75 359.55 A1.75 1.75 0 0 1 181.75 356.05Z" fill="#141414" opacity="0.62"/>
<path d="M195.80 355.90 Q199.85 355.60 203.90 355.90 A1.50 1.50 0 0 1 203.90 358.90 Q199.85 359.20 195.80 358.90 A1.50 1.50 0 0 1 195.80 355.90Z" fill="#141414" opacity="0.55"/>
<path d="M210.80 354.90 Q215.20 354.20 219.60 354.10 A1.50 1.50 0 0 1 219.60 357.10 Q215.20 357.80 210.80 357.90 A1.50 1.50 0 0 1 210.80 354.90Z" fill="#141414" opacity="0.50"/>
<path d="M224.50 354.40 Q227.25 353.70 230.00 353.60 A1.50 1.50 0 0 1 230.00 356.60 Q227.25 357.30 224.50 357.40 A1.50 1.50 0 0 1 224.50 354.40Z" fill="#141414" opacity="0.35"/>
</g>
<path d="M65 377.3 C80 378.5 92 380.5 110 382 C125 383.3 140 384.4 160 384.4 C185 384 205 384.2 236 382.5" stroke="#333" stroke-width="1.1" fill="none" opacity="0.42" filter="url(#b0)"/>
<circle cx="173.4" cy="330.6" r="1.9" fill="#fbfbfb" filter="url(#b0)"/>
<circle cx="107" cy="355.2" r="1.8" fill="#fbfbfb" filter="url(#b0)"/>
<circle cx="162.2" cy="359.6" r="2.0" fill="#fbfbfb" filter="url(#b0)"/>
<rect x="70.90" y="227.30" width="53.90" height="172.80" fill="none" stroke="#98aed8" stroke-width="1.6" />
<rect x="125.30" y="227.30" width="53.90" height="172.80" fill="none" stroke="#98aed8" stroke-width="1.5" />
<rect x="179.20" y="227.30" width="54.70" height="172.80" fill="none" stroke="#587090" stroke-width="1.4" />
<text x="87.00" y="240.00" font-size="8.77" fill="#231f20" stroke="#231f20" stroke-width="0.22" text-anchor="start" textLength="21.5" lengthAdjust="spacingAndGlyphs" >shLuc</text>
<text x="139.50" y="240.00" font-size="8.77" fill="#231f20" stroke="#231f20" stroke-width="0.22" text-anchor="start" textLength="23" lengthAdjust="spacingAndGlyphs" >shB36</text>
<text x="192.00" y="240.00" font-size="8.77" fill="#231f20" stroke="#231f20" stroke-width="0.22" text-anchor="start" textLength="26.7" lengthAdjust="spacingAndGlyphs" >shKIAA</text>
<line x1="73.00" y1="245.70" x2="122.00" y2="245.70" stroke="#555" stroke-width="1.4" />
<line x1="129.20" y1="245.70" x2="177.80" y2="245.70" stroke="#555" stroke-width="1.4" />
<line x1="181.00" y1="245.70" x2="229.80" y2="245.70" stroke="#555" stroke-width="1.4" />
<text x="75.40" y="257.90" font-size="8.88" fill="#231f20" stroke="#231f20" stroke-width="0.22" text-anchor="middle" textLength="4.3" lengthAdjust="spacingAndGlyphs" >0</text>
<text x="87.90" y="257.90" font-size="8.88" fill="#231f20" stroke="#231f20" stroke-width="0.22" text-anchor="middle" textLength="9.2" lengthAdjust="spacingAndGlyphs" >10</text>
<text x="102.70" y="257.90" font-size="8.88" fill="#231f20" stroke="#231f20" stroke-width="0.22" text-anchor="middle" textLength="9.2" lengthAdjust="spacingAndGlyphs" >20</text>
<text x="117.70" y="257.90" font-size="8.88" fill="#231f20" stroke="#231f20" stroke-width="0.22" text-anchor="middle" textLength="9.2" lengthAdjust="spacingAndGlyphs" >60</text>
<text x="132.70" y="257.90" font-size="8.88" fill="#231f20" stroke="#231f20" stroke-width="0.22" text-anchor="middle" textLength="4.3" lengthAdjust="spacingAndGlyphs" >0</text>
<text x="144.60" y="257.90" font-size="8.88" fill="#231f20" stroke="#231f20" stroke-width="0.22" text-anchor="middle" textLength="9.2" lengthAdjust="spacingAndGlyphs" >10</text>
<text x="159.00" y="257.90" font-size="8.88" fill="#231f20" stroke="#231f20" stroke-width="0.22" text-anchor="middle" textLength="9.2" lengthAdjust="spacingAndGlyphs" >20</text>
<text x="172.00" y="257.90" font-size="8.88" fill="#231f20" stroke="#231f20" stroke-width="0.22" text-anchor="middle" textLength="9.2" lengthAdjust="spacingAndGlyphs" >60</text>
<text x="184.00" y="257.90" font-size="8.88" fill="#231f20" stroke="#231f20" stroke-width="0.22" text-anchor="middle" textLength="4.3" lengthAdjust="spacingAndGlyphs" >0</text>
<text x="195.60" y="257.90" font-size="8.88" fill="#231f20" stroke="#231f20" stroke-width="0.22" text-anchor="middle" textLength="9.2" lengthAdjust="spacingAndGlyphs" >10</text>
<text x="210.60" y="257.90" font-size="8.88" fill="#231f20" stroke="#231f20" stroke-width="0.22" text-anchor="middle" textLength="9.2" lengthAdjust="spacingAndGlyphs" >20</text>
<text x="226.00" y="257.90" font-size="8.88" fill="#231f20" stroke="#231f20" stroke-width="0.22" text-anchor="middle" textLength="9.2" lengthAdjust="spacingAndGlyphs" >60</text>
<text x="237.50" y="259.00" font-size="8.56" fill="#231f20" stroke="#231f20" stroke-width="0.22" text-anchor="start" textLength="15" lengthAdjust="spacingAndGlyphs" >min</text>
<text x="59.20" y="278.80" font-size="9.20" fill="#231f20" stroke="#231f20" stroke-width="0.22" text-anchor="end" textLength="23.3" lengthAdjust="spacingAndGlyphs" >pJAK2</text>
<text x="59.20" y="305.00" font-size="9.20" fill="#231f20" stroke="#231f20" stroke-width="0.22" text-anchor="end" textLength="18.0" lengthAdjust="spacingAndGlyphs" >JAK2</text>
<text x="59.20" y="332.40" font-size="9.20" fill="#231f20" stroke="#231f20" stroke-width="0.22" text-anchor="end" textLength="23.9" lengthAdjust="spacingAndGlyphs" >pStat5</text>
<text x="59.20" y="358.00" font-size="9.20" fill="#231f20" stroke="#231f20" stroke-width="0.22" text-anchor="end" textLength="18.4" lengthAdjust="spacingAndGlyphs" >Stat5</text>
<text x="59.20" y="384.70" font-size="9.20" fill="#231f20" stroke="#231f20" stroke-width="0.22" text-anchor="end" textLength="18.7" lengthAdjust="spacingAndGlyphs" >Actin</text>
<text x="307.00" y="240.30" font-size="8.77" fill="#231f20" stroke="#231f20" stroke-width="0.22" text-anchor="start" textLength="107.2" lengthAdjust="spacingAndGlyphs" >Relative pJAK2 level to shLuc</text>
<line x1="288.60" y1="262.00" x2="288.60" y2="372.20" stroke="#231f20" stroke-width="1.1" />
<line x1="288.60" y1="368.90" x2="433.60" y2="368.90" stroke="#231f20" stroke-width="1.1" />
<line x1="285.60" y1="369.20" x2="288.60" y2="369.20" stroke="#231f20" stroke-width="1" />
<text x="282.60" y="372.00" font-size="8.56" fill="#231f20" stroke="#231f20" stroke-width="0.22" text-anchor="end" >0</text>
<line x1="285.60" y1="354.30" x2="288.60" y2="354.30" stroke="#231f20" stroke-width="1" />
<text x="282.60" y="357.10" font-size="8.56" fill="#231f20" stroke="#231f20" stroke-width="0.22" text-anchor="end" textLength="10.2" lengthAdjust="spacingAndGlyphs" >0.5</text>
<line x1="285.60" y1="339.40" x2="288.60" y2="339.40" stroke="#231f20" stroke-width="1" />
<text x="282.60" y="342.20" font-size="8.56" fill="#231f20" stroke="#231f20" stroke-width="0.22" text-anchor="end" >1</text>
<line x1="285.60" y1="324.50" x2="288.60" y2="324.50" stroke="#231f20" stroke-width="1" />
<text x="282.60" y="327.30" font-size="8.56" fill="#231f20" stroke="#231f20" stroke-width="0.22" text-anchor="end" textLength="10.2" lengthAdjust="spacingAndGlyphs" >1.5</text>
<line x1="285.60" y1="309.60" x2="288.60" y2="309.60" stroke="#231f20" stroke-width="1" />
<text x="282.60" y="312.40" font-size="8.56" fill="#231f20" stroke="#231f20" stroke-width="0.22" text-anchor="end" >2</text>
<line x1="285.60" y1="294.70" x2="288.60" y2="294.70" stroke="#231f20" stroke-width="1" />
<text x="282.60" y="297.50" font-size="8.56" fill="#231f20" stroke="#231f20" stroke-width="0.22" text-anchor="end" textLength="10.2" lengthAdjust="spacingAndGlyphs" >2.5</text>
<line x1="285.60" y1="279.80" x2="288.60" y2="279.80" stroke="#231f20" stroke-width="1" />
<text x="282.60" y="282.60" font-size="8.56" fill="#231f20" stroke="#231f20" stroke-width="0.22" text-anchor="end" >3</text>
<line x1="285.60" y1="264.90" x2="288.60" y2="264.90" stroke="#231f20" stroke-width="1" />
<text x="282.60" y="267.70" font-size="8.56" fill="#231f20" stroke="#231f20" stroke-width="0.22" text-anchor="end" textLength="10.2" lengthAdjust="spacingAndGlyphs" >3.5</text>
<line x1="335.40" y1="368.90" x2="335.40" y2="372.20" stroke="#231f20" stroke-width="1" />
<line x1="382.40" y1="368.90" x2="382.40" y2="372.20" stroke="#231f20" stroke-width="1" />
<line x1="430.00" y1="368.90" x2="430.00" y2="372.20" stroke="#231f20" stroke-width="1" />
<text x="312.00" y="383.60" font-size="8.56" fill="#231f20" stroke="#231f20" stroke-width="0.22" text-anchor="middle" textLength="10.5" lengthAdjust="spacingAndGlyphs" >10'</text>
<text x="359.60" y="383.60" font-size="8.56" fill="#231f20" stroke="#231f20" stroke-width="0.22" text-anchor="middle" textLength="10.5" lengthAdjust="spacingAndGlyphs" >20'</text>
<text x="406.90" y="383.60" font-size="8.56" fill="#231f20" stroke="#231f20" stroke-width="0.22" text-anchor="middle" textLength="10.5" lengthAdjust="spacingAndGlyphs" >60'</text>
<text x="321.50" y="397.20" font-size="10.27" fill="#231f20" stroke="#231f20" stroke-width="0.22" text-anchor="start" textLength="78.5" lengthAdjust="spacingAndGlyphs" >Minutes post TPO</text>
<line x1="312.00" y1="274.14" x2="312.00" y2="311.09" stroke="#231f20" stroke-width="0.9" />
<line x1="309.80" y1="274.14" x2="314.20" y2="274.14" stroke="#231f20" stroke-width="0.9" />
<line x1="309.80" y1="311.09" x2="314.20" y2="311.09" stroke="#231f20" stroke-width="0.9" />
<line x1="359.60" y1="281.59" x2="359.60" y2="325.39" stroke="#231f20" stroke-width="0.9" />
<line x1="357.40" y1="281.59" x2="361.80" y2="281.59" stroke="#231f20" stroke-width="0.9" />
<line x1="357.40" y1="325.39" x2="361.80" y2="325.39" stroke="#231f20" stroke-width="0.9" />
<line x1="359.60" y1="313.18" x2="359.60" y2="324.50" stroke="#231f20" stroke-width="0.9" />
<line x1="357.40" y1="313.18" x2="361.80" y2="313.18" stroke="#231f20" stroke-width="0.9" />
<line x1="357.40" y1="324.50" x2="361.80" y2="324.50" stroke="#231f20" stroke-width="0.9" />
<line x1="406.90" y1="321.52" x2="406.90" y2="345.66" stroke="#231f20" stroke-width="0.9" />
<line x1="404.70" y1="321.52" x2="409.10" y2="321.52" stroke="#231f20" stroke-width="0.9" />
<line x1="404.70" y1="345.66" x2="409.10" y2="345.66" stroke="#231f20" stroke-width="0.9" />
<line x1="406.90" y1="350.43" x2="406.90" y2="364.73" stroke="#231f20" stroke-width="0.9" />
<line x1="404.70" y1="350.43" x2="409.10" y2="350.43" stroke="#231f20" stroke-width="0.9" />
<line x1="404.70" y1="364.73" x2="409.10" y2="364.73" stroke="#231f20" stroke-width="0.9" />
<line x1="359.60" y1="348.94" x2="359.60" y2="353.11" stroke="#231f20" stroke-width="0.9" />
<line x1="357.40" y1="348.94" x2="361.80" y2="348.94" stroke="#231f20" stroke-width="0.9" />
<line x1="357.40" y1="353.11" x2="361.80" y2="353.11" stroke="#231f20" stroke-width="0.9" />
<line x1="312.00" y1="281.29" x2="312.00" y2="291.72" stroke="#231f20" stroke-width="0.9" />
<line x1="309.80" y1="281.29" x2="314.20" y2="281.29" stroke="#231f20" stroke-width="0.9" />
<line x1="309.80" y1="291.72" x2="314.20" y2="291.72" stroke="#231f20" stroke-width="0.9" />
<polyline points="312.00,338.21 359.60,351.32 406.90,359.96" fill="none" stroke="#3f5b87" stroke-width="1.5"/>
<circle cx="312.00" cy="338.21" r="2.30" fill="#3f5b87"/>
<circle cx="359.60" cy="351.32" r="2.30" fill="#3f5b87"/>
<circle cx="406.90" cy="359.96" r="2.30" fill="#3f5b87"/>
<polyline points="312.00,291.42 359.60,296.49 406.90,332.84" fill="none" stroke="#a33244" stroke-width="1.5"/>
<circle cx="312.00" cy="291.42" r="2.30" fill="#a33244"/>
<circle cx="359.60" cy="296.49" r="2.30" fill="#a33244"/>
<circle cx="406.90" cy="332.84" r="2.30" fill="#a33244"/>
<polyline points="312.00,284.87 359.60,318.84 406.90,356.39" fill="none" stroke="#79b14d" stroke-width="1.5"/>
<circle cx="312.00" cy="284.87" r="2.30" fill="#79b14d"/>
<circle cx="359.60" cy="318.84" r="2.30" fill="#79b14d"/>
<circle cx="406.90" cy="356.39" r="2.30" fill="#79b14d"/>
<line x1="406.30" y1="259.80" x2="422.70" y2="259.80" stroke="#3f5b87" stroke-width="1.5" />
<circle cx="414.60" cy="259.80" r="2.50" fill="#3f5b87"/>
<text x="426.20" y="262.80" font-size="9.63" fill="#231f20" stroke="#231f20" stroke-width="0.22" text-anchor="start" textLength="19.2" lengthAdjust="spacingAndGlyphs" >shluc</text>
<line x1="406.30" y1="272.70" x2="422.70" y2="272.70" stroke="#a33244" stroke-width="1.5" />
<circle cx="414.60" cy="272.70" r="2.50" fill="#a33244"/>
<text x="426.20" y="275.70" font-size="9.63" fill="#231f20" stroke="#231f20" stroke-width="0.22" text-anchor="start" textLength="33.6" lengthAdjust="spacingAndGlyphs" >shbrcc36</text>
<line x1="406.30" y1="285.80" x2="422.70" y2="285.80" stroke="#79b14d" stroke-width="1.5" />
<circle cx="414.60" cy="285.80" r="2.50" fill="#79b14d"/>
<text x="426.20" y="288.80" font-size="9.63" fill="#231f20" stroke="#231f20" stroke-width="0.22" text-anchor="start" textLength="37.5" lengthAdjust="spacingAndGlyphs" >shkiaa157</text>
<text x="8.20" y="445.30" font-size="12.20" fill="#000" stroke="#000" stroke-width="0.22" text-anchor="start" textLength="8.0" lengthAdjust="spacingAndGlyphs" >D</text>
<rect x="51.65" y="478.00" width="174.85" height="27.10" fill="#c8c4c4" stroke="#2a2a2a" stroke-width="1.15" />
<line x1="52.30" y1="479.00" x2="225.90" y2="479.00" stroke="#d4d0d0" stroke-width="0.8" />
<rect x="51.65" y="508.40" width="174.85" height="27.90" fill="#c8c4c4" stroke="#2a2a2a" stroke-width="1.15" />
<line x1="52.30" y1="509.40" x2="225.90" y2="509.40" stroke="#d4d0d0" stroke-width="0.8" />
<rect x="51.65" y="539.50" width="174.85" height="26.40" fill="#c8c4c4" stroke="#2a2a2a" stroke-width="1.15" />
<line x1="52.30" y1="540.50" x2="225.90" y2="540.50" stroke="#d4d0d0" stroke-width="0.8" />
<rect x="51.65" y="568.40" width="174.85" height="25.00" fill="#c8c4c4" stroke="#2a2a2a" stroke-width="1.15" />
<line x1="52.30" y1="569.40" x2="225.90" y2="569.40" stroke="#d4d0d0" stroke-width="0.8" />
<rect x="51.65" y="596.40" width="174.85" height="20.00" fill="#c8c4c4" stroke="#2a2a2a" stroke-width="1.15" />
<line x1="52.30" y1="597.40" x2="225.90" y2="597.40" stroke="#d4d0d0" stroke-width="0.8" />
<rect x="51.65" y="619.40" width="174.85" height="25.70" fill="#c8c4c4" stroke="#2a2a2a" stroke-width="1.15" />
<line x1="52.30" y1="620.40" x2="225.90" y2="620.40" stroke="#d4d0d0" stroke-width="0.8" />
<g filter="url(#b0)">
<path d="M100.45 484.15 Q104.50 483.85 108.55 484.15 A0.65 0.65 0 0 1 108.55 485.45 Q104.50 485.75 100.45 485.45 A0.65 0.65 0 0 1 100.45 484.15Z" fill="#141414" opacity="0.20"/>
<path d="M100.45 491.55 Q104.50 491.25 108.55 491.55 A0.65 0.65 0 0 1 108.55 492.85 Q104.50 493.15 100.45 492.85 A0.65 0.65 0 0 1 100.45 491.55Z" fill="#141414" opacity="0.20"/>
<path d="M151.20 487.00 Q155.55 484.90 159.90 487.00 A0.80 0.80 0 0 1 159.90 488.60 Q155.55 487.10 151.20 488.60 A0.80 0.80 0 0 1 151.20 487.00Z" fill="#141414" opacity="0.50"/>
<path d="M151.60 494.10 Q155.55 493.80 159.50 494.10 A1.20 1.20 0 0 1 159.50 496.50 Q155.55 496.80 151.60 496.50 A1.20 1.20 0 0 1 151.60 494.10Z" fill="#141414" opacity="0.65"/>
<path d="M205.60 486.90 Q210.65 484.80 215.70 486.90 A0.80 0.80 0 0 1 215.70 488.50 Q210.65 487.00 205.60 488.50 A0.80 0.80 0 0 1 205.60 486.90Z" fill="#141414" opacity="0.55"/>
<path d="M205.90 493.40 Q210.65 493.10 215.40 493.40 A1.10 1.10 0 0 1 215.40 495.60 Q210.65 495.90 205.90 495.60 A1.10 1.10 0 0 1 205.90 493.40Z" fill="#141414" opacity="0.62"/>
<path d="M89.20 513.80 Q92.75 513.50 96.30 513.80 A0.80 0.80 0 0 1 96.30 515.40 Q92.75 515.70 89.20 515.40 A0.80 0.80 0 0 1 89.20 513.80Z" fill="#141414" opacity="0.35"/>
<path d="M89.30 521.10 Q92.75 520.80 96.20 521.10 A0.90 0.90 0 0 1 96.20 522.90 Q92.75 523.20 89.30 522.90 A0.90 0.90 0 0 1 89.30 521.10Z" fill="#141414" opacity="0.38"/>
<path d="M101.20 514.60 Q105.20 514.30 109.20 514.60 A1.40 1.40 0 0 1 109.20 517.40 Q105.20 517.70 101.20 517.40 A1.40 1.40 0 0 1 101.20 514.60Z" fill="#141414" opacity="0.92"/>
<path d="M101.30 521.60 Q105.20 521.30 109.10 521.60 A1.50 1.50 0 0 1 109.10 524.60 Q105.20 524.90 101.30 524.60 A1.50 1.50 0 0 1 101.30 521.60Z" fill="#141414" opacity="0.92"/>
<path d="M140.15 518.05 Q144.00 516.35 147.85 518.05 A0.75 0.75 0 0 1 147.85 519.55 Q144.00 518.45 140.15 519.55 A0.75 0.75 0 0 1 140.15 518.05Z" fill="#141414" opacity="0.30"/>
<path d="M140.40 525.50 Q144.00 525.20 147.60 525.50 A1.00 1.00 0 0 1 147.60 527.50 Q144.00 527.80 140.40 527.50 A1.00 1.00 0 0 1 140.40 525.50Z" fill="#141414" opacity="0.50"/>
<path d="M153.00 517.60 Q156.35 516.10 159.70 517.60 A2.00 2.00 0 0 1 159.70 521.60 Q156.35 520.70 153.00 521.60 A2.00 2.00 0 0 1 153.00 517.60Z" fill="#141414" opacity="1.00"/>
<path d="M153.25 524.75 Q156.35 524.45 159.45 524.75 A2.25 2.25 0 0 1 159.45 529.25 Q156.35 529.55 153.25 529.25 A2.25 2.25 0 0 1 153.25 524.75Z" fill="#141414" opacity="1.00"/>
<path d="M178.70 527.80 Q183.50 527.50 188.30 527.80 A0.70 0.70 0 0 1 188.30 529.20 Q183.50 529.50 178.70 529.20 A0.70 0.70 0 0 1 178.70 527.80Z" fill="#141414" opacity="0.08"/>
<path d="M193.00 519.90 Q197.35 518.20 201.70 519.90 A0.70 0.70 0 0 1 201.70 521.30 Q197.35 520.20 193.00 521.30 A0.70 0.70 0 0 1 193.00 519.90Z" fill="#141414" opacity="0.22"/>
<path d="M193.30 526.80 Q197.35 526.50 201.40 526.80 A1.00 1.00 0 0 1 201.40 528.80 Q197.35 529.10 193.30 528.80 A1.00 1.00 0 0 1 193.30 526.80Z" fill="#141414" opacity="0.45"/>
<path d="M206.80 518.40 Q211.45 516.90 216.10 518.40 A1.80 1.80 0 0 1 216.10 522.00 Q211.45 521.10 206.80 522.00 A1.80 1.80 0 0 1 206.80 518.40Z" fill="#141414" opacity="1.00"/>
<path d="M207.00 524.90 Q211.45 524.60 215.90 524.90 A2.00 2.00 0 0 1 215.90 528.90 Q211.45 529.20 207.00 528.90 A2.00 2.00 0 0 1 207.00 524.90Z" fill="#141414" opacity="1.00"/>
<path d="M61.10 553.20 Q66.20 552.90 71.30 553.20 A1.30 1.30 0 0 1 71.30 555.80 Q66.20 556.10 61.10 555.80 A1.30 1.30 0 0 1 61.10 553.20Z" fill="#141414" opacity="0.88"/>
<path d="M76.30 553.20 Q80.80 552.90 85.30 553.20 A1.30 1.30 0 0 1 85.30 555.80 Q80.80 556.10 76.30 555.80 A1.30 1.30 0 0 1 76.30 553.20Z" fill="#141414" opacity="0.88"/>
<path d="M89.40 553.10 Q93.70 552.80 98.00 553.10 A1.40 1.40 0 0 1 98.00 555.90 Q93.70 556.20 89.40 555.90 A1.40 1.40 0 0 1 89.40 553.10Z" fill="#141414" opacity="0.90"/>
<path d="M102.20 553.50 Q106.00 553.20 109.80 553.50 A1.00 1.00 0 0 1 109.80 555.50 Q106.00 555.80 102.20 555.50 A1.00 1.00 0 0 1 102.20 553.50Z" fill="#141414" opacity="0.75"/>
<path d="M115.30 553.70 Q119.55 553.40 123.80 553.70 A1.70 1.70 0 0 1 123.80 557.10 Q119.55 557.40 115.30 557.10 A1.70 1.70 0 0 1 115.30 553.70Z" fill="#141414" opacity="0.92"/>
<path d="M129.10 552.70 Q132.75 552.40 136.40 552.70 A1.80 1.80 0 0 1 136.40 556.30 Q132.75 556.60 129.10 556.30 A1.80 1.80 0 0 1 129.10 552.70Z" fill="#141414" opacity="0.92"/>
<path d="M141.60 553.40 Q145.20 553.10 148.80 553.40 A1.60 1.60 0 0 1 148.80 556.60 Q145.20 556.90 141.60 556.60 A1.60 1.60 0 0 1 141.60 553.40Z" fill="#141414" opacity="0.92"/>
<path d="M154.40 553.30 Q158.15 553.00 161.90 553.30 A1.70 1.70 0 0 1 161.90 556.70 Q158.15 557.00 154.40 556.70 A1.70 1.70 0 0 1 154.40 553.30Z" fill="#141414" opacity="0.92"/>
<path d="M166.30 554.40 Q171.10 554.10 175.90 554.40 A1.60 1.60 0 0 1 175.90 557.60 Q171.10 557.90 166.30 557.60 A1.60 1.60 0 0 1 166.30 554.40Z" fill="#141414" opacity="0.92"/>
<path d="M180.80 554.80 Q185.05 554.50 189.30 554.80 A1.50 1.50 0 0 1 189.30 557.80 Q185.05 558.10 180.80 557.80 A1.50 1.50 0 0 1 180.80 554.80Z" fill="#141414" opacity="0.90"/>
<path d="M194.20 553.80 Q199.15 553.50 204.10 553.80 A1.60 1.60 0 0 1 204.10 557.00 Q199.15 557.30 194.20 557.00 A1.60 1.60 0 0 1 194.20 553.80Z" fill="#141414" opacity="0.92"/>
<path d="M208.50 553.00 Q213.70 551.90 218.90 551.40 A1.00 1.00 0 0 1 218.90 553.40 Q213.70 554.50 208.50 555.00 A1.00 1.00 0 0 1 208.50 553.00Z" fill="#141414" opacity="0.72"/>
<path d="M100.10 578.10 Q103.35 577.80 106.60 578.10 A1.50 1.50 0 0 1 106.60 581.10 Q103.35 581.40 100.10 581.10 A1.50 1.50 0 0 1 100.10 578.10Z" fill="#141414" opacity="0.92"/>
<path d="M138.05 582.05 Q141.85 581.75 145.65 582.05 A0.75 0.75 0 0 1 145.65 583.55 Q141.85 583.85 138.05 583.55 A0.75 0.75 0 0 1 138.05 582.05Z" fill="#141414" opacity="0.20"/>
<path d="M151.35 581.45 Q154.80 581.15 158.25 581.45 A1.75 1.75 0 0 1 158.25 584.95 Q154.80 585.25 151.35 584.95 A1.75 1.75 0 0 1 151.35 581.45Z" fill="#141414" opacity="0.95"/>
<path d="M192.75 582.55 Q196.15 582.25 199.55 582.55 A0.75 0.75 0 0 1 199.55 584.05 Q196.15 584.35 192.75 584.05 A0.75 0.75 0 0 1 192.75 582.55Z" fill="#141414" opacity="0.20"/>
<path d="M205.90 580.70 Q209.80 580.40 213.70 580.70 A2.00 2.00 0 0 1 213.70 584.70 Q209.80 585.00 205.90 584.70 A2.00 2.00 0 0 1 205.90 580.70Z" fill="#141414" opacity="1.00"/>
<path d="M62.90 604.50 Q67.15 604.20 71.40 604.50 A1.20 1.20 0 0 1 71.40 606.90 Q67.15 607.20 62.90 606.90 A1.20 1.20 0 0 1 62.90 604.50Z" fill="#141414" opacity="0.78"/>
<path d="M76.50 604.50 Q80.80 604.20 85.10 604.50 A1.20 1.20 0 0 1 85.10 606.90 Q80.80 607.20 76.50 606.90 A1.20 1.20 0 0 1 76.50 604.50Z" fill="#141414" opacity="0.78"/>
<path d="M90.20 604.50 Q94.25 604.20 98.30 604.50 A1.20 1.20 0 0 1 98.30 606.90 Q94.25 607.20 90.20 606.90 A1.20 1.20 0 0 1 90.20 604.50Z" fill="#141414" opacity="0.78"/>
<path d="M102.90 604.50 Q106.25 604.20 109.60 604.50 A1.20 1.20 0 0 1 109.60 606.90 Q106.25 607.20 102.90 606.90 A1.20 1.20 0 0 1 102.90 604.50Z" fill="#141414" opacity="0.78"/>
<path d="M115.80 605.50 Q119.70 605.20 123.60 605.50 A1.30 1.30 0 0 1 123.60 608.10 Q119.70 608.40 115.80 608.10 A1.30 1.30 0 0 1 115.80 605.50Z" fill="#141414" opacity="0.80"/>
<path d="M128.60 605.50 Q132.75 605.20 136.90 605.50 A1.30 1.30 0 0 1 136.90 608.10 Q132.75 608.40 128.60 608.10 A1.30 1.30 0 0 1 128.60 605.50Z" fill="#141414" opacity="0.80"/>
<path d="M141.30 605.50 Q145.45 605.20 149.60 605.50 A1.30 1.30 0 0 1 149.60 608.10 Q145.45 608.40 141.30 608.10 A1.30 1.30 0 0 1 141.30 605.50Z" fill="#141414" opacity="0.80"/>
<path d="M154.00 605.50 Q157.85 605.20 161.70 605.50 A1.30 1.30 0 0 1 161.70 608.10 Q157.85 608.40 154.00 608.10 A1.30 1.30 0 0 1 154.00 605.50Z" fill="#141414" opacity="0.80"/>
<path d="M166.20 606.00 Q170.65 605.70 175.10 606.00 A1.50 1.50 0 0 1 175.10 609.00 Q170.65 609.30 166.20 609.00 A1.50 1.50 0 0 1 166.20 606.00Z" fill="#141414" opacity="0.85"/>
<path d="M180.40 606.40 Q184.30 606.10 188.20 606.40 A1.10 1.10 0 0 1 188.20 608.60 Q184.30 608.90 180.40 608.60 A1.10 1.10 0 0 1 180.40 606.40Z" fill="#141414" opacity="0.60"/>
<path d="M194.20 605.40 Q198.90 605.10 203.60 605.40 A1.20 1.20 0 0 1 203.60 607.80 Q198.90 608.10 194.20 607.80 A1.20 1.20 0 0 1 194.20 605.40Z" fill="#141414" opacity="0.65"/>
<path d="M208.50 604.00 Q213.00 602.90 217.50 602.40 A1.00 1.00 0 0 1 217.50 604.40 Q213.00 605.50 208.50 606.00 A1.00 1.00 0 0 1 208.50 604.00Z" fill="#141414" opacity="0.50"/>
<path d="M61 627.9 C66 629.5 72 630.2 85 630.6 C100 631 110 631.5 130 631.8 C150 632.3 165 632.6 178 633.8 C190 634.3 200 633 218 630.4" stroke="#151515" stroke-width="3.2" fill="none" opacity="0.85"/>
</g>
<line x1="51.20" y1="440.90" x2="112.10" y2="440.90" stroke="#7a7a7a" stroke-width="1.6" />
<line x1="112.10" y1="440.90" x2="164.20" y2="440.90" stroke="#d9a69b" stroke-width="1.6" />
<line x1="164.20" y1="440.90" x2="223.80" y2="440.90" stroke="#7f72ad" stroke-width="1.6" />
<line x1="51.65" y1="440.20" x2="51.65" y2="651.00" stroke="#2a2a2a" stroke-width="1.0" />
<line x1="111.65" y1="440.20" x2="111.65" y2="651.00" stroke="#333" stroke-width="1.0" />
<line x1="112.60" y1="441.50" x2="112.60" y2="651.00" stroke="#6e2a22" stroke-width="1.0" />
<line x1="163.45" y1="441.50" x2="163.45" y2="651.00" stroke="#dca89c" stroke-width="0.8" />
<line x1="164.60" y1="441.50" x2="164.60" y2="651.00" stroke="#5b2f55" stroke-width="1.3" />
<line x1="222.95" y1="440.20" x2="222.95" y2="651.00" stroke="#998fc0" stroke-width="1.7" />
<line x1="51.20" y1="650.40" x2="112.10" y2="650.40" stroke="#333" stroke-width="1.1" />
<line x1="112.10" y1="650.40" x2="164.00" y2="650.40" stroke="#d49488" stroke-width="1.1" />
<line x1="164.00" y1="650.40" x2="223.80" y2="650.40" stroke="#9088bc" stroke-width="1.1" />
<text x="71.20" y="455.40" font-size="8.77" fill="#231f20" stroke="#231f20" stroke-width="0.22" text-anchor="start" textLength="21.7" lengthAdjust="spacingAndGlyphs" >shLuc</text>
<text x="126.90" y="454.40" font-size="8.77" fill="#231f20" stroke="#231f20" stroke-width="0.22" text-anchor="start" textLength="22.9" lengthAdjust="spacingAndGlyphs" >shB36</text>
<text x="181.60" y="454.40" font-size="8.77" fill="#231f20" stroke="#231f20" stroke-width="0.22" text-anchor="start" textLength="26.6" lengthAdjust="spacingAndGlyphs" >shKIAA</text>
<line x1="58.00" y1="460.40" x2="107.00" y2="460.40" stroke="#333" stroke-width="1.1" />
<line x1="114.80" y1="460.40" x2="162.50" y2="460.40" stroke="#333" stroke-width="1.1" />
<line x1="169.50" y1="460.40" x2="219.00" y2="460.40" stroke="#333" stroke-width="1.1" />
<text x="57.50" y="472.30" font-size="8.56" fill="#231f20" stroke="#231f20" stroke-width="0.22" text-anchor="middle" textLength="4.3" lengthAdjust="spacingAndGlyphs" >0</text>
<text x="68.70" y="472.30" font-size="8.56" fill="#231f20" stroke="#231f20" stroke-width="0.22" text-anchor="middle" textLength="4.3" lengthAdjust="spacingAndGlyphs" >1</text>
<text x="83.20" y="472.30" font-size="8.56" fill="#231f20" stroke="#231f20" stroke-width="0.22" text-anchor="middle" textLength="9.0" lengthAdjust="spacingAndGlyphs" >10</text>
<text x="102.50" y="472.30" font-size="8.56" fill="#231f20" stroke="#231f20" stroke-width="0.22" text-anchor="middle" textLength="13.5" lengthAdjust="spacingAndGlyphs" >100</text>
<text x="117.00" y="472.30" font-size="8.56" fill="#231f20" stroke="#231f20" stroke-width="0.22" text-anchor="middle" textLength="4.3" lengthAdjust="spacingAndGlyphs" >0</text>
<text x="126.00" y="472.30" font-size="8.56" fill="#231f20" stroke="#231f20" stroke-width="0.22" text-anchor="middle" textLength="4.3" lengthAdjust="spacingAndGlyphs" >1</text>
<text x="138.20" y="472.30" font-size="8.56" fill="#231f20" stroke="#231f20" stroke-width="0.22" text-anchor="middle" textLength="9.0" lengthAdjust="spacingAndGlyphs" >10</text>
<text x="154.70" y="472.30" font-size="8.56" fill="#231f20" stroke="#231f20" stroke-width="0.22" text-anchor="middle" textLength="13.5" lengthAdjust="spacingAndGlyphs" >100</text>
<text x="172.20" y="472.30" font-size="8.56" fill="#231f20" stroke="#231f20" stroke-width="0.22" text-anchor="middle" textLength="4.3" lengthAdjust="spacingAndGlyphs" >0</text>
<text x="181.60" y="472.30" font-size="8.56" fill="#231f20" stroke="#231f20" stroke-width="0.22" text-anchor="middle" textLength="4.3" lengthAdjust="spacingAndGlyphs" >1</text>
<text x="194.80" y="472.30" font-size="8.56" fill="#231f20" stroke="#231f20" stroke-width="0.22" text-anchor="middle" textLength="9.0" lengthAdjust="spacingAndGlyphs" >10</text>
<text x="211.70" y="472.30" font-size="8.56" fill="#231f20" stroke="#231f20" stroke-width="0.22" text-anchor="middle" textLength="13.5" lengthAdjust="spacingAndGlyphs" >100</text>
<text x="226.90" y="472.40" font-size="8.56" fill="#231f20" stroke="#231f20" stroke-width="0.22" text-anchor="start" textLength="22" lengthAdjust="spacingAndGlyphs" >ng/ml</text>
<text x="47.00" y="486.60" font-size="9.20" fill="#231f20" stroke="#231f20" stroke-width="0.22" text-anchor="end" textLength="22.8" lengthAdjust="spacingAndGlyphs" >pJAK2</text>
<text x="47.00" y="497.00" font-size="9.20" fill="#231f20" stroke="#231f20" stroke-width="0.22" text-anchor="end" textLength="25.1" lengthAdjust="spacingAndGlyphs" >(short)</text>
<text x="47.00" y="519.60" font-size="9.20" fill="#231f20" stroke="#231f20" stroke-width="0.22" text-anchor="end" textLength="22.8" lengthAdjust="spacingAndGlyphs" >pJAK2</text>
<text x="47.00" y="529.90" font-size="9.20" fill="#231f20" stroke="#231f20" stroke-width="0.22" text-anchor="end" textLength="22.4" lengthAdjust="spacingAndGlyphs" >(long)</text>
<text x="47.00" y="555.90" font-size="9.20" fill="#231f20" stroke="#231f20" stroke-width="0.22" text-anchor="end" textLength="17.6" lengthAdjust="spacingAndGlyphs" >JAK2</text>
<text x="47.00" y="583.20" font-size="9.20" fill="#231f20" stroke="#231f20" stroke-width="0.22" text-anchor="end" textLength="23.5" lengthAdjust="spacingAndGlyphs" >pStat5</text>
<text x="47.00" y="607.10" font-size="9.20" fill="#231f20" stroke="#231f20" stroke-width="0.22" text-anchor="end" textLength="18.9" lengthAdjust="spacingAndGlyphs" >Stat5</text>
<text x="47.00" y="634.80" font-size="9.20" fill="#231f20" stroke="#231f20" stroke-width="0.22" text-anchor="end" textLength="18.9" lengthAdjust="spacingAndGlyphs" >Actin</text>
<text x="292.50" y="455.60" font-size="8.56" fill="#231f20" stroke="#231f20" stroke-width="0.22" text-anchor="start" textLength="73.8" lengthAdjust="spacingAndGlyphs" >Relative pJAK2 level</text>
<text x="314.00" y="466.60" font-size="8.56" fill="#231f20" stroke="#231f20" stroke-width="0.22" text-anchor="start" textLength="31.6" lengthAdjust="spacingAndGlyphs" >to shLuc</text>
<text x="308.70" y="486.80" font-size="8.56" fill="#231f20" stroke="#231f20" stroke-width="0.22" text-anchor="start" textLength="25.6" lengthAdjust="spacingAndGlyphs" >P&lt;0.05</text>
<line x1="284.20" y1="491.20" x2="359.60" y2="491.20" stroke="#231f20" stroke-width="1" />
<text x="293.00" y="506.90" font-size="8.56" fill="#231f20" stroke="#231f20" stroke-width="0.22" text-anchor="start" textLength="25.7" lengthAdjust="spacingAndGlyphs" >P&lt;0.05</text>
<line x1="284.20" y1="510.80" x2="328.10" y2="510.80" stroke="#231f20" stroke-width="1" />
<rect x="289.00" y="581.95" width="13.00" height="24.05" fill="#4d6383" stroke="none" stroke-width="1" />
<rect x="321.40" y="535.29" width="14.00" height="70.71" fill="#a13443" stroke="none" stroke-width="1" />
<rect x="354.20" y="534.33" width="13.50" height="71.67" fill="#7aa95c" stroke="none" stroke-width="1" />
<line x1="295.50" y1="581.71" x2="295.50" y2="582.19" stroke="#231f20" stroke-width="0.9" />
<line x1="293.00" y1="581.71" x2="298.00" y2="581.71" stroke="#231f20" stroke-width="0.9" />
<line x1="293.00" y1="582.19" x2="298.00" y2="582.19" stroke="#231f20" stroke-width="0.9" />
<line x1="328.40" y1="516.53" x2="328.40" y2="554.53" stroke="#231f20" stroke-width="0.9" />
<line x1="325.90" y1="516.53" x2="330.90" y2="516.53" stroke="#231f20" stroke-width="0.9" />
<line x1="325.90" y1="554.53" x2="330.90" y2="554.53" stroke="#231f20" stroke-width="0.9" />
<line x1="361.00" y1="514.85" x2="361.00" y2="553.81" stroke="#231f20" stroke-width="0.9" />
<line x1="358.50" y1="514.85" x2="363.50" y2="514.85" stroke="#231f20" stroke-width="0.9" />
<line x1="358.50" y1="553.81" x2="363.50" y2="553.81" stroke="#231f20" stroke-width="0.9" />
<line x1="279.00" y1="504.00" x2="279.00" y2="608.80" stroke="#231f20" stroke-width="1.1" />
<line x1="279.00" y1="606.00" x2="381.10" y2="606.00" stroke="#231f20" stroke-width="1.1" />
<line x1="276.00" y1="606.00" x2="279.00" y2="606.00" stroke="#231f20" stroke-width="1" />
<text x="273.50" y="608.80" font-size="8.56" fill="#231f20" stroke="#231f20" stroke-width="0.22" text-anchor="end" >0</text>
<line x1="276.00" y1="581.95" x2="279.00" y2="581.95" stroke="#231f20" stroke-width="1" />
<text x="273.50" y="584.75" font-size="8.56" fill="#231f20" stroke="#231f20" stroke-width="0.22" text-anchor="end" >1</text>
<line x1="276.00" y1="557.90" x2="279.00" y2="557.90" stroke="#231f20" stroke-width="1" />
<text x="273.50" y="560.70" font-size="8.56" fill="#231f20" stroke="#231f20" stroke-width="0.22" text-anchor="end" >2</text>
<line x1="276.00" y1="533.85" x2="279.00" y2="533.85" stroke="#231f20" stroke-width="1" />
<text x="273.50" y="536.65" font-size="8.56" fill="#231f20" stroke="#231f20" stroke-width="0.22" text-anchor="end" >3</text>
<line x1="276.00" y1="509.80" x2="279.00" y2="509.80" stroke="#231f20" stroke-width="1" />
<text x="273.50" y="512.60" font-size="8.56" fill="#231f20" stroke="#231f20" stroke-width="0.22" text-anchor="end" >4</text>
<line x1="312.00" y1="606.00" x2="312.00" y2="608.80" stroke="#231f20" stroke-width="1" />
<line x1="344.80" y1="606.00" x2="344.80" y2="608.80" stroke="#231f20" stroke-width="1" />
<line x1="377.40" y1="606.00" x2="377.40" y2="608.80" stroke="#231f20" stroke-width="1" />
<text transform="translate(298.60,618.60) rotate(-45)" font-size="8.99" fill="#231f20" stroke="#231f20" stroke-width="0.2" text-anchor="end" textLength="23.2" lengthAdjust="spacingAndGlyphs">ShLuc</text>
<text transform="translate(333.30,618.50) rotate(-45)" font-size="8.99" fill="#231f20" stroke="#231f20" stroke-width="0.2" text-anchor="end" textLength="36.5" lengthAdjust="spacingAndGlyphs">ShBrcc36</text>
<text transform="translate(364.60,618.60) rotate(-45)" font-size="8.99" fill="#231f20" stroke="#231f20" stroke-width="0.2" text-anchor="end" textLength="26.8" lengthAdjust="spacingAndGlyphs">ShKiaa</text>
<text x="418.50" y="455.60" font-size="8.56" fill="#231f20" stroke="#231f20" stroke-width="0.22" text-anchor="start" textLength="69.2" lengthAdjust="spacingAndGlyphs" >Relative JAK2 level</text>
<text x="437.30" y="466.60" font-size="8.56" fill="#231f20" stroke="#231f20" stroke-width="0.22" text-anchor="start" textLength="31.6" lengthAdjust="spacingAndGlyphs" >to shLuc</text>
<text x="439.80" y="493.50" font-size="8.56" fill="#231f20" stroke="#231f20" stroke-width="0.22" text-anchor="start" textLength="25.8" lengthAdjust="spacingAndGlyphs" >P&lt;0.03</text>
<line x1="415.80" y1="497.30" x2="490.40" y2="497.30" stroke="#231f20" stroke-width="1" />
<text x="424.40" y="513.40" font-size="8.56" fill="#231f20" stroke="#231f20" stroke-width="0.22" text-anchor="start" textLength="25.6" lengthAdjust="spacingAndGlyphs" >P&lt;0.03</text>
<line x1="415.80" y1="517.30" x2="458.90" y2="517.30" stroke="#231f20" stroke-width="1" />
<rect x="420.40" y="575.25" width="10.00" height="31.05" fill="#4d6383" stroke="none" stroke-width="1" />
<rect x="452.20" y="544.20" width="10.20" height="62.10" fill="#a13443" stroke="none" stroke-width="1" />
<rect x="484.50" y="550.10" width="10.20" height="56.20" fill="#7aa95c" stroke="none" stroke-width="1" />
<line x1="425.40" y1="575.09" x2="425.40" y2="575.41" stroke="#231f20" stroke-width="0.9" />
<line x1="422.90" y1="575.09" x2="427.90" y2="575.09" stroke="#231f20" stroke-width="0.9" />
<line x1="422.90" y1="575.41" x2="427.90" y2="575.41" stroke="#231f20" stroke-width="0.9" />
<line x1="457.30" y1="533.95" x2="457.30" y2="554.76" stroke="#231f20" stroke-width="0.9" />
<line x1="454.80" y1="533.95" x2="459.80" y2="533.95" stroke="#231f20" stroke-width="0.9" />
<line x1="454.80" y1="554.76" x2="459.80" y2="554.76" stroke="#231f20" stroke-width="0.9" />
<line x1="489.60" y1="540.47" x2="489.60" y2="560.35" stroke="#231f20" stroke-width="0.9" />
<line x1="487.10" y1="540.47" x2="492.10" y2="540.47" stroke="#231f20" stroke-width="0.9" />
<line x1="487.10" y1="560.35" x2="492.10" y2="560.35" stroke="#231f20" stroke-width="0.9" />
<line x1="408.80" y1="510.00" x2="408.80" y2="608.80" stroke="#231f20" stroke-width="1.1" />
<line x1="408.80" y1="606.00" x2="508.70" y2="606.00" stroke="#231f20" stroke-width="1.1" />
<line x1="405.80" y1="606.30" x2="408.80" y2="606.30" stroke="#231f20" stroke-width="1" />
<text x="403.30" y="609.10" font-size="8.56" fill="#231f20" stroke="#231f20" stroke-width="0.22" text-anchor="end" >0</text>
<line x1="405.80" y1="575.25" x2="408.80" y2="575.25" stroke="#231f20" stroke-width="1" />
<text x="403.30" y="578.05" font-size="8.56" fill="#231f20" stroke="#231f20" stroke-width="0.22" text-anchor="end" >1</text>
<line x1="405.80" y1="544.20" x2="408.80" y2="544.20" stroke="#231f20" stroke-width="1" />
<text x="403.30" y="547.00" font-size="8.56" fill="#231f20" stroke="#231f20" stroke-width="0.22" text-anchor="end" >2</text>
<line x1="405.80" y1="513.15" x2="408.80" y2="513.15" stroke="#231f20" stroke-width="1" />
<text x="403.30" y="515.95" font-size="8.56" fill="#231f20" stroke="#231f20" stroke-width="0.22" text-anchor="end" >3</text>
<line x1="441.40" y1="606.00" x2="441.40" y2="608.80" stroke="#231f20" stroke-width="1" />
<line x1="473.70" y1="606.00" x2="473.70" y2="608.80" stroke="#231f20" stroke-width="1" />
<line x1="505.50" y1="606.00" x2="505.50" y2="608.80" stroke="#231f20" stroke-width="1" />
<text transform="translate(430.20,618.90) rotate(-45)" font-size="8.99" fill="#231f20" stroke="#231f20" stroke-width="0.2" text-anchor="end" textLength="23.5" lengthAdjust="spacingAndGlyphs">ShLuc</text>
<text transform="translate(463.60,618.60) rotate(-45)" font-size="8.99" fill="#231f20" stroke="#231f20" stroke-width="0.2" text-anchor="end" textLength="35.5" lengthAdjust="spacingAndGlyphs">shBrcc36</text>
<text transform="translate(495.60,619.00) rotate(-45)" font-size="8.99" fill="#231f20" stroke="#231f20" stroke-width="0.2" text-anchor="end" textLength="25.6" lengthAdjust="spacingAndGlyphs">shKiaa</text>
<rect x="0.00" y="0.00" width="520.00" height="1.00" fill="#000" stroke="none" stroke-width="1" />
<rect x="0.00" y="0.00" width="1.00" height="659.00" fill="#000" stroke="none" stroke-width="1" />
<rect x="519.00" y="0.00" width="1.00" height="659.00" fill="#000" stroke="none" stroke-width="1" />
<rect x="1.00" y="657.00" width="518.00" height="1.00" fill="#8a8a8a" stroke="none" stroke-width="1" />
<rect x="1.00" y="658.00" width="518.00" height="1.00" fill="#555" stroke="none" stroke-width="1" />
</svg></body></html>
